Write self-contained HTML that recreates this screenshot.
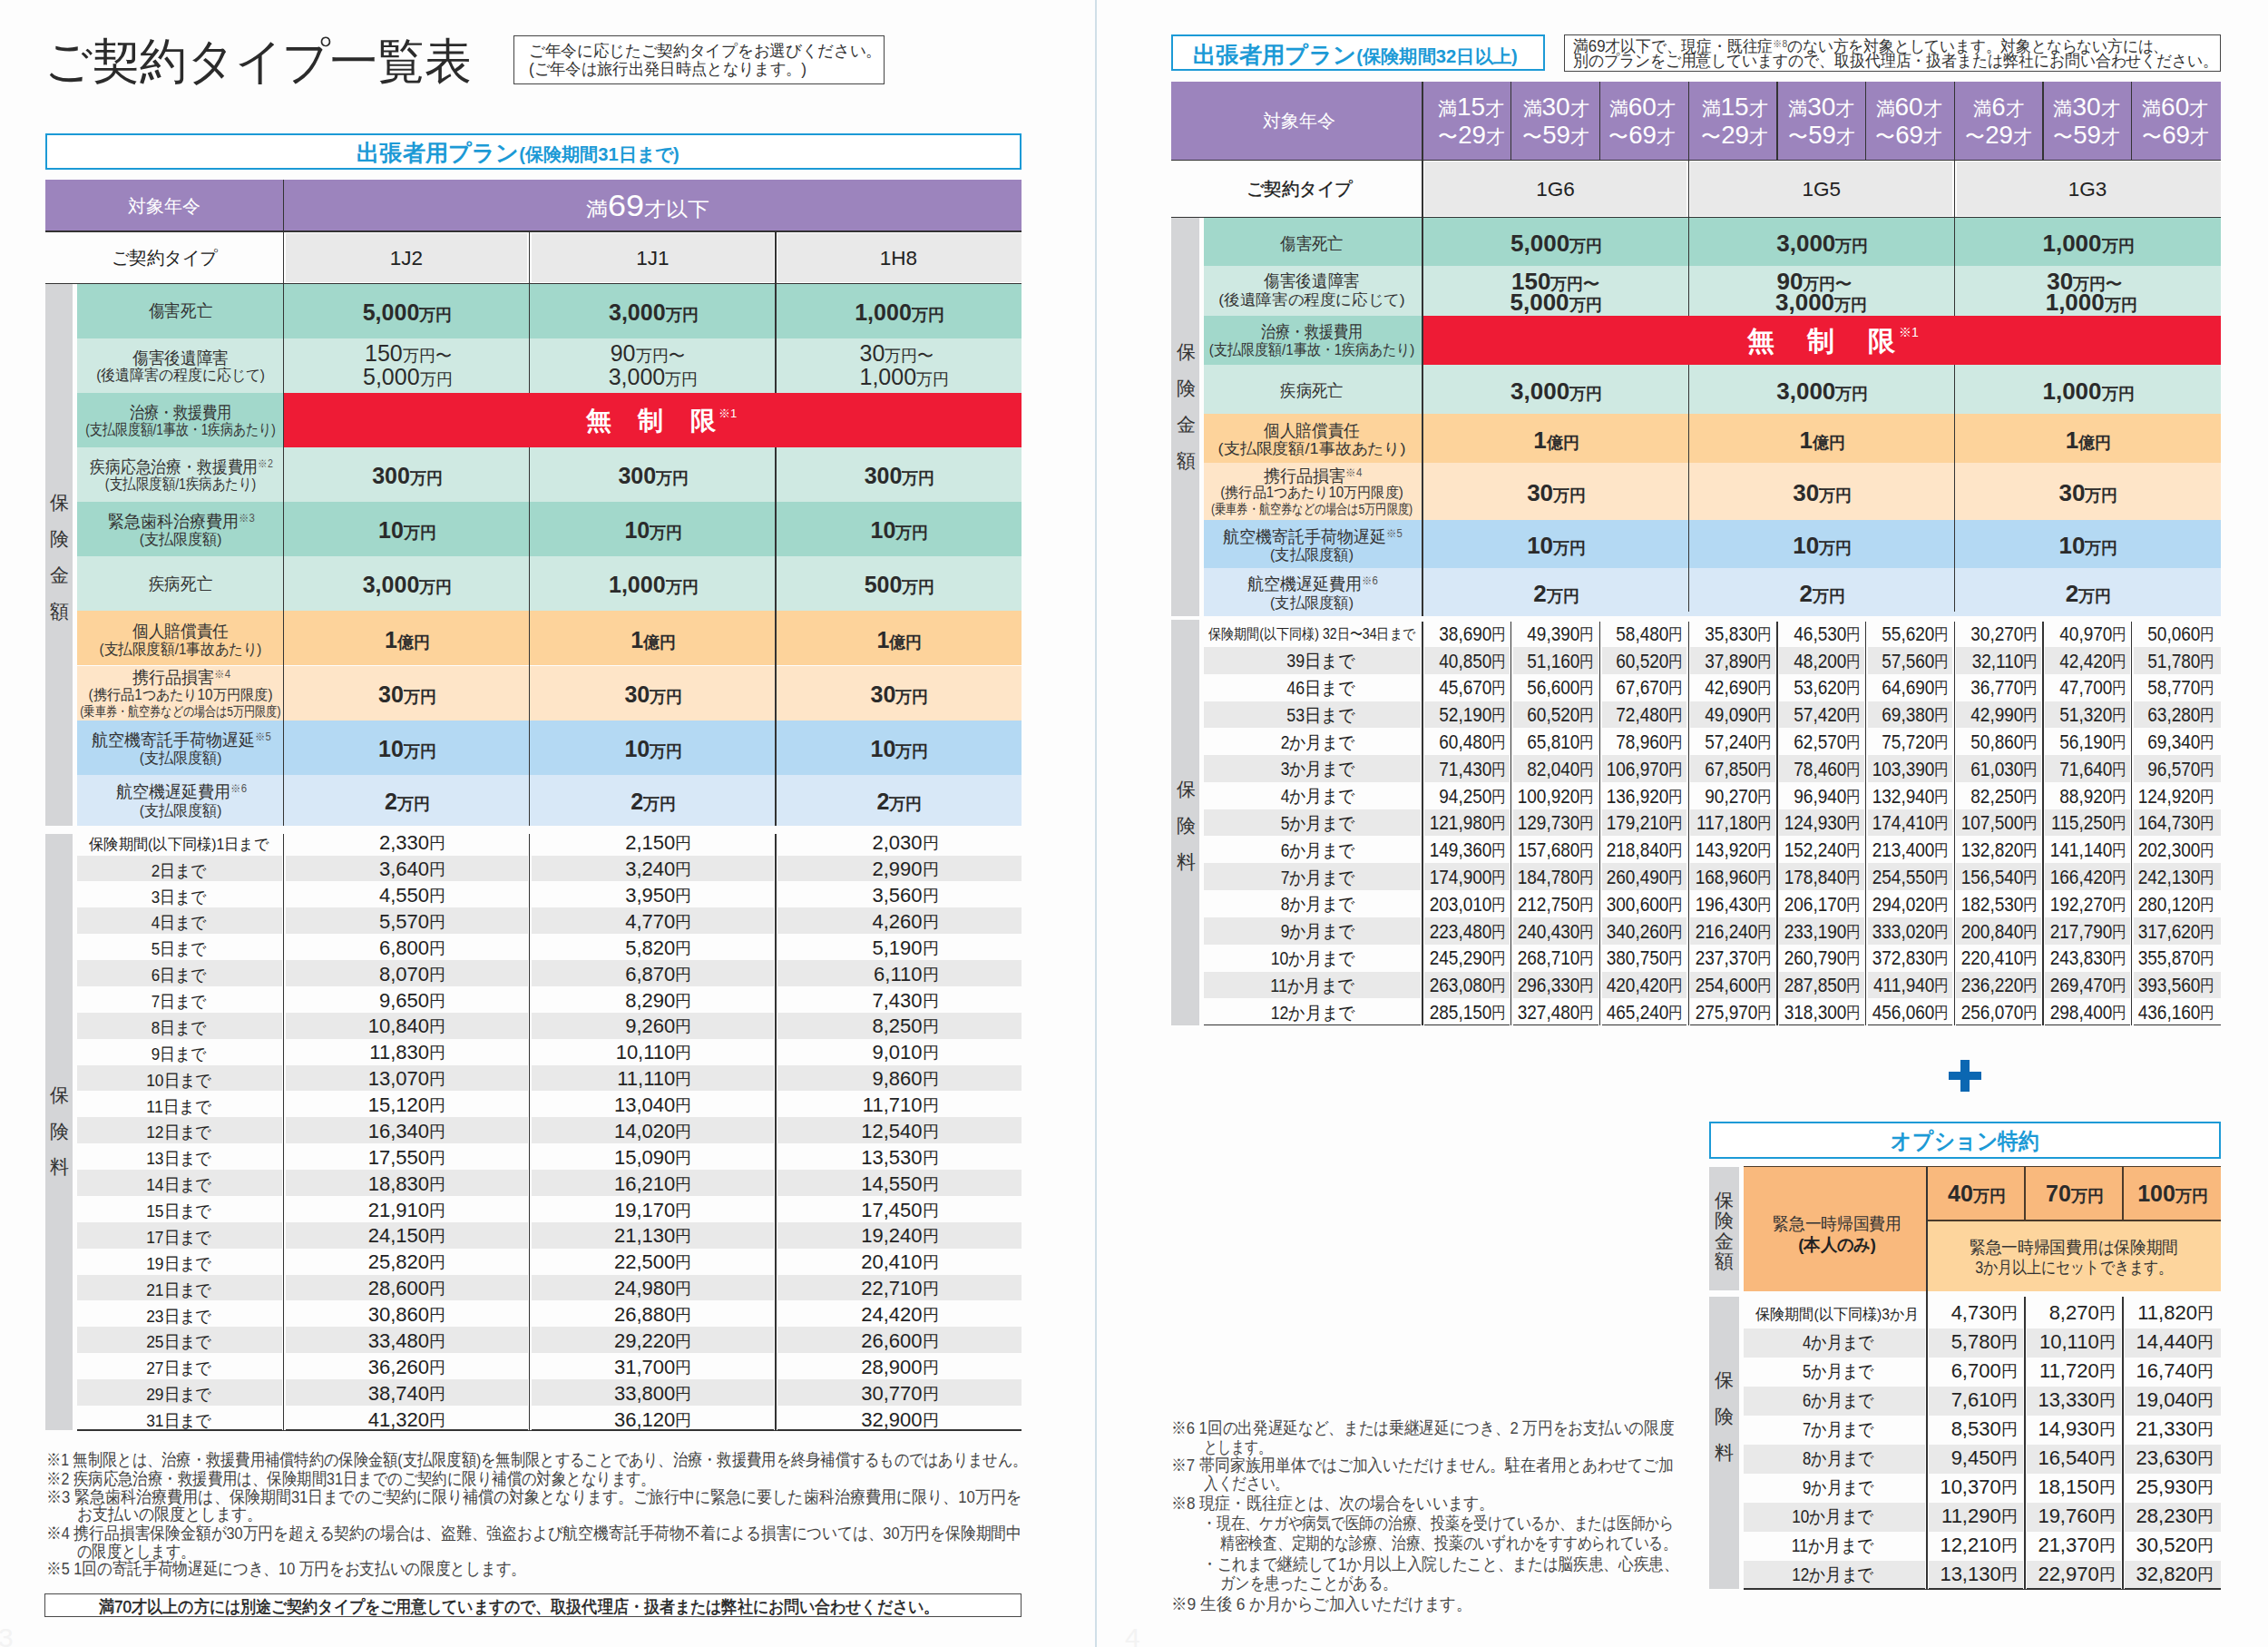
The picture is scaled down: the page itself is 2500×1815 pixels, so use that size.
<!DOCTYPE html>
<html lang="ja"><head><meta charset="utf-8"><title>ご契約タイプ一覧表</title><style>
html,body{margin:0;padding:0}
html{width:2500px;height:1815px;overflow:hidden}
body{width:2500px;height:1815px;background:#fdfdfd;position:relative;overflow:hidden;font-family:"Liberation Sans",sans-serif;}
#page{position:absolute;left:0;top:0;width:2500px;height:1815px;overflow:hidden;contain:paint}
.b{position:absolute}
.t{position:absolute;white-space:nowrap;line-height:1}
.med{-webkit-text-stroke:0.5px #222}
.med2{-webkit-text-stroke:0.35px #1a1a1a}
.sup{position:relative;top:-0.5em;font-weight:400;color:#555}
</style></head><body><div id="page">
<div id="t1" class="t " style="left:49.0px;top:66.5px;font-size:54px;font-weight:300;color:#2b2b2b;transform:translate(0,-50%) scaleX(0.9612);transform-origin:0 50%;">ご契約タイプ一覧表</div>
<div class="b" style="left:566px;top:38.5px;width:409px;height:54px;border:1.3px solid #444;box-sizing:border-box;background:#fff"></div>
<div id="t2" class="t " style="left:582.5px;top:55.7px;font-size:18px;font-weight:400;color:#333;transform:translate(0,-50%) scaleX(0.9823);transform-origin:0 50%;">ご年令に応じたご契約タイプをお選びください。</div>
<div id="t3" class="t " style="left:582.5px;top:75.5px;font-size:18px;font-weight:400;color:#333;transform:translate(0,-50%) scaleX(0.9623);transform-origin:0 50%;">(ご年令は旅行出発日時点となります。)</div>
<div class="b" style="left:50px;top:147px;width:1076px;height:39.5px;border:2.6px solid #1c9ad6;box-sizing:border-box;background:#fff"></div>
<div id="t4" class="t " style="left:571.0px;top:167.5px;font-size:25px;font-weight:700;color:#1c9ad6;transform:translate(-50%,-50%) scaleX(1.0056);transform-origin:50% 50%;"><span style="font-size:25px">出張者用プラン</span><span style="font-size:20px">(保険期間31日まで)</span></div>
<div class="b" style="left:50.0px;top:198.0px;width:1076.0px;height:57.0px;background:#9c84bd;"></div>
<div id="t5" class="t " style="left:181.0px;top:226.5px;font-size:20px;font-weight:400;color:#fff;transform:translate(-50%,-50%) scaleX(1.0000);transform-origin:50% 50%;">対象年令</div>
<div id="t6" class="t " style="left:714.0px;top:226.0px;font-size:22px;font-weight:400;color:#fff;transform:translate(-50%,-50%) scaleX(1.0880);transform-origin:50% 50%;"><span style="font-size:22px">満</span><span style="font-size:33px">69</span><span style="font-size:22px">才以下</span></div>
<div class="b" style="left:312.5px;top:256.8px;width:813.5px;height:54.0px;background:#e9e9e9;"></div>
<div class="b" style="left:310.3px;top:256.0px;width:4.4px;height:55.5px;background:#fdfdfd;"></div>
<div class="b" style="left:581.4px;top:256.0px;width:4.4px;height:55.5px;background:#fdfdfd;"></div>
<div class="b" style="left:852.8px;top:256.0px;width:4.4px;height:55.5px;background:#fdfdfd;"></div>
<div id="t7" class="t " style="left:181.0px;top:284.0px;font-size:20px;font-weight:400;color:#222;transform:translate(-50%,-50%) scaleX(0.9750);transform-origin:50% 50%;">ご契約タイプ</div>
<div id="t8" class="t " style="left:448.0px;top:284.5px;font-size:22.5px;font-weight:400;color:#222;transform:translate(-50%,-50%) scaleX(1.0000);transform-origin:50% 50%;">1J2</div>
<div id="t9" class="t " style="left:719.3px;top:284.5px;font-size:22.5px;font-weight:400;color:#222;transform:translate(-50%,-50%) scaleX(1.0000);transform-origin:50% 50%;">1J1</div>
<div id="t10" class="t " style="left:990.5px;top:284.5px;font-size:22.5px;font-weight:400;color:#222;transform:translate(-50%,-50%) scaleX(1.0000);transform-origin:50% 50%;">1H8</div>
<div class="b" style="left:85.2px;top:312.5px;width:1040.8px;height:60.1px;background:#a2d8cb;"></div>
<div class="b" style="left:85.2px;top:372.6px;width:1040.8px;height:60.2px;background:#cfe9e2;"></div>
<div class="b" style="left:85.2px;top:432.8px;width:1040.8px;height:60.1px;background:#a2d8cb;"></div>
<div class="b" style="left:85.2px;top:492.9px;width:1040.8px;height:60.2px;background:#cfe9e2;"></div>
<div class="b" style="left:85.2px;top:553.1px;width:1040.8px;height:60.1px;background:#a2d8cb;"></div>
<div class="b" style="left:85.2px;top:613.2px;width:1040.8px;height:60.1px;background:#cfe9e2;"></div>
<div class="b" style="left:85.2px;top:673.4px;width:1040.8px;height:60.1px;background:#fdd39b;"></div>
<div class="b" style="left:85.2px;top:733.5px;width:1040.8px;height:60.2px;background:#fee5c8;"></div>
<div class="b" style="left:85.2px;top:793.7px;width:1040.8px;height:60.1px;background:#b4d9f3;"></div>
<div class="b" style="left:85.2px;top:853.9px;width:1040.8px;height:56.1px;background:#d8e8f7;"></div>
<div class="b" style="left:312.5px;top:432.8px;width:813.5px;height:60.1px;background:#ee1b35;"></div>
<div class="b" style="left:50.0px;top:312.5px;width:30.3px;height:597.5px;background:#d4d5d7;"></div>
<div id="t11" class="t " style="left:65.3px;top:552.6px;font-size:21px;font-weight:400;color:#333;transform:translate(-50%,-50%) scaleX(1.0000);transform-origin:50% 50%;">保</div>
<div id="t12" class="t " style="left:65.3px;top:592.8px;font-size:21px;font-weight:400;color:#333;transform:translate(-50%,-50%) scaleX(1.0000);transform-origin:50% 50%;">険</div>
<div id="t13" class="t " style="left:65.3px;top:633.0px;font-size:21px;font-weight:400;color:#333;transform:translate(-50%,-50%) scaleX(1.0000);transform-origin:50% 50%;">金</div>
<div id="t14" class="t " style="left:65.3px;top:673.0px;font-size:21px;font-weight:400;color:#333;transform:translate(-50%,-50%) scaleX(1.0000);transform-origin:50% 50%;">額</div>
<div id="t15" class="t " style="left:198.5px;top:342.1px;font-size:19px;font-weight:400;color:#333;transform:translate(-50%,-50%) scaleX(0.9211);transform-origin:50% 50%;">傷害死亡</div>
<div id="t16" class="t " style="left:198.5px;top:393.8px;font-size:19px;font-weight:400;color:#333;transform:translate(-50%,-50%) scaleX(0.9298);transform-origin:50% 50%;">傷害後遺障害</div>
<div id="t17" class="t " style="left:198.5px;top:412.9px;font-size:16.5px;font-weight:400;color:#333;transform:translate(-50%,-50%) scaleX(0.9374);transform-origin:50% 50%;">(後遺障害の程度に応じて)</div>
<div id="t18" class="t " style="left:198.5px;top:454.2px;font-size:19px;font-weight:400;color:#333;transform:translate(-50%,-50%) scaleX(0.8496);transform-origin:50% 50%;">治療・救援費用</div>
<div id="t19" class="t " style="left:198.5px;top:473.0px;font-size:16.5px;font-weight:400;color:#333;transform:translate(-50%,-50%) scaleX(0.8224);transform-origin:50% 50%;">(支払限度額/1事故・1疾病あたり)</div>
<div id="t20" class="t " style="left:199.5px;top:514.3px;font-size:19px;font-weight:400;color:#333;transform:translate(-50%,-50%) scaleX(0.8860);transform-origin:50% 50%;">疾病応急治療・救援費用<span class="sup" style="font-size:12px">※2</span></div>
<div id="t21" class="t " style="left:198.5px;top:532.7px;font-size:16.5px;font-weight:400;color:#333;transform:translate(-50%,-50%) scaleX(0.8538);transform-origin:50% 50%;">(支払限度額/1疾病あたり)</div>
<div id="t22" class="t " style="left:199.5px;top:573.6px;font-size:19px;font-weight:400;color:#333;transform:translate(-50%,-50%) scaleX(0.9474);transform-origin:50% 50%;">緊急歯科治療費用<span class="sup" style="font-size:12px">※3</span></div>
<div id="t23" class="t " style="left:198.5px;top:593.9px;font-size:16.5px;font-weight:400;color:#333;transform:translate(-50%,-50%) scaleX(0.9448);transform-origin:50% 50%;">(支払限度額)</div>
<div id="t24" class="t " style="left:198.5px;top:643.3px;font-size:19px;font-weight:400;color:#333;transform:translate(-50%,-50%) scaleX(0.9211);transform-origin:50% 50%;">疾病死亡</div>
<div id="t25" class="t " style="left:198.5px;top:695.3px;font-size:19px;font-weight:400;color:#333;transform:translate(-50%,-50%) scaleX(0.9298);transform-origin:50% 50%;">個人賠償責任</div>
<div id="t26" class="t " style="left:198.5px;top:714.5px;font-size:16.5px;font-weight:400;color:#333;transform:translate(-50%,-50%) scaleX(0.9179);transform-origin:50% 50%;">(支払限度額/1事故あたり)</div>
<div id="t27" class="t " style="left:199.5px;top:745.9px;font-size:19px;font-weight:400;color:#333;transform:translate(-50%,-50%) scaleX(0.9500);transform-origin:50% 50%;">携行品損害<span class="sup" style="font-size:12px">※4</span></div>
<div id="t28" class="t " style="left:198.5px;top:765.8px;font-size:16px;font-weight:400;color:#333;transform:translate(-50%,-50%) scaleX(0.9521);transform-origin:50% 50%;">(携行品1つあたり10万円限度)</div>
<div id="t29" class="t " style="left:198.5px;top:783.0px;font-size:15px;font-weight:400;color:#333;transform:translate(-50%,-50%) scaleX(0.8095);transform-origin:50% 50%;">(乗車券・航空券などの場合は5万円限度)</div>
<div id="t30" class="t " style="left:199.5px;top:814.7px;font-size:19px;font-weight:400;color:#333;transform:translate(-50%,-50%) scaleX(0.9464);transform-origin:50% 50%;">航空機寄託手荷物遅延<span class="sup" style="font-size:12px">※5</span></div>
<div id="t31" class="t " style="left:198.5px;top:835.0px;font-size:16.5px;font-weight:400;color:#333;transform:translate(-50%,-50%) scaleX(0.9448);transform-origin:50% 50%;">(支払限度額)</div>
<div id="t32" class="t " style="left:199.5px;top:872.1px;font-size:19px;font-weight:400;color:#333;transform:translate(-50%,-50%) scaleX(0.9493);transform-origin:50% 50%;">航空機遅延費用<span class="sup" style="font-size:12px">※6</span></div>
<div id="t33" class="t " style="left:198.5px;top:893.2px;font-size:16.5px;font-weight:400;color:#333;transform:translate(-50%,-50%) scaleX(0.9448);transform-origin:50% 50%;">(支払限度額)</div>
<div id="t34" class="t " style="left:449.0px;top:343.6px;font-size:25px;font-weight:700;color:#2b2b2b;transform:translate(-50%,-50%) scaleX(1.0000);transform-origin:50% 50%;"><span style="font-size:25px">5,000</span><span style="font-size:18px">万円</span></div>
<div id="t35" class="t " style="left:720.3px;top:343.6px;font-size:25px;font-weight:700;color:#2b2b2b;transform:translate(-50%,-50%) scaleX(1.0000);transform-origin:50% 50%;"><span style="font-size:25px">3,000</span><span style="font-size:18px">万円</span></div>
<div id="t36" class="t " style="left:991.5px;top:343.6px;font-size:25px;font-weight:700;color:#2b2b2b;transform:translate(-50%,-50%) scaleX(1.0000);transform-origin:50% 50%;"><span style="font-size:25px">1,000</span><span style="font-size:18px">万円</span></div>
<div id="t37" class="t " style="left:449.0px;top:524.0px;font-size:25px;font-weight:700;color:#2b2b2b;transform:translate(-50%,-50%) scaleX(1.0000);transform-origin:50% 50%;"><span style="font-size:25px">300</span><span style="font-size:18px">万円</span></div>
<div id="t38" class="t " style="left:720.3px;top:524.0px;font-size:25px;font-weight:700;color:#2b2b2b;transform:translate(-50%,-50%) scaleX(1.0000);transform-origin:50% 50%;"><span style="font-size:25px">300</span><span style="font-size:18px">万円</span></div>
<div id="t39" class="t " style="left:991.5px;top:524.0px;font-size:25px;font-weight:700;color:#2b2b2b;transform:translate(-50%,-50%) scaleX(1.0000);transform-origin:50% 50%;"><span style="font-size:25px">300</span><span style="font-size:18px">万円</span></div>
<div id="t40" class="t " style="left:449.0px;top:584.2px;font-size:25px;font-weight:700;color:#2b2b2b;transform:translate(-50%,-50%) scaleX(1.0000);transform-origin:50% 50%;"><span style="font-size:25px">10</span><span style="font-size:18px">万円</span></div>
<div id="t41" class="t " style="left:720.3px;top:584.2px;font-size:25px;font-weight:700;color:#2b2b2b;transform:translate(-50%,-50%) scaleX(1.0000);transform-origin:50% 50%;"><span style="font-size:25px">10</span><span style="font-size:18px">万円</span></div>
<div id="t42" class="t " style="left:991.5px;top:584.2px;font-size:25px;font-weight:700;color:#2b2b2b;transform:translate(-50%,-50%) scaleX(1.0000);transform-origin:50% 50%;"><span style="font-size:25px">10</span><span style="font-size:18px">万円</span></div>
<div id="t43" class="t " style="left:449.0px;top:644.3px;font-size:25px;font-weight:700;color:#2b2b2b;transform:translate(-50%,-50%) scaleX(1.0000);transform-origin:50% 50%;"><span style="font-size:25px">3,000</span><span style="font-size:18px">万円</span></div>
<div id="t44" class="t " style="left:720.3px;top:644.3px;font-size:25px;font-weight:700;color:#2b2b2b;transform:translate(-50%,-50%) scaleX(1.0000);transform-origin:50% 50%;"><span style="font-size:25px">1,000</span><span style="font-size:18px">万円</span></div>
<div id="t45" class="t " style="left:991.5px;top:644.3px;font-size:25px;font-weight:700;color:#2b2b2b;transform:translate(-50%,-50%) scaleX(1.0000);transform-origin:50% 50%;"><span style="font-size:25px">500</span><span style="font-size:18px">万円</span></div>
<div id="t46" class="t " style="left:449.0px;top:764.6px;font-size:25px;font-weight:700;color:#2b2b2b;transform:translate(-50%,-50%) scaleX(1.0000);transform-origin:50% 50%;"><span style="font-size:25px">30</span><span style="font-size:18px">万円</span></div>
<div id="t47" class="t " style="left:720.3px;top:764.6px;font-size:25px;font-weight:700;color:#2b2b2b;transform:translate(-50%,-50%) scaleX(1.0000);transform-origin:50% 50%;"><span style="font-size:25px">30</span><span style="font-size:18px">万円</span></div>
<div id="t48" class="t " style="left:991.5px;top:764.6px;font-size:25px;font-weight:700;color:#2b2b2b;transform:translate(-50%,-50%) scaleX(1.0000);transform-origin:50% 50%;"><span style="font-size:25px">30</span><span style="font-size:18px">万円</span></div>
<div id="t49" class="t " style="left:449.0px;top:824.8px;font-size:25px;font-weight:700;color:#2b2b2b;transform:translate(-50%,-50%) scaleX(1.0000);transform-origin:50% 50%;"><span style="font-size:25px">10</span><span style="font-size:18px">万円</span></div>
<div id="t50" class="t " style="left:720.3px;top:824.8px;font-size:25px;font-weight:700;color:#2b2b2b;transform:translate(-50%,-50%) scaleX(1.0000);transform-origin:50% 50%;"><span style="font-size:25px">10</span><span style="font-size:18px">万円</span></div>
<div id="t51" class="t " style="left:991.5px;top:824.8px;font-size:25px;font-weight:700;color:#2b2b2b;transform:translate(-50%,-50%) scaleX(1.0000);transform-origin:50% 50%;"><span style="font-size:25px">10</span><span style="font-size:18px">万円</span></div>
<div id="t52" class="t " style="left:449.0px;top:882.9px;font-size:25px;font-weight:700;color:#2b2b2b;transform:translate(-50%,-50%) scaleX(1.0000);transform-origin:50% 50%;"><span style="font-size:25px">2</span><span style="font-size:18px">万円</span></div>
<div id="t53" class="t " style="left:720.3px;top:882.9px;font-size:25px;font-weight:700;color:#2b2b2b;transform:translate(-50%,-50%) scaleX(1.0000);transform-origin:50% 50%;"><span style="font-size:25px">2</span><span style="font-size:18px">万円</span></div>
<div id="t54" class="t " style="left:991.5px;top:882.9px;font-size:25px;font-weight:700;color:#2b2b2b;transform:translate(-50%,-50%) scaleX(1.0000);transform-origin:50% 50%;"><span style="font-size:25px">2</span><span style="font-size:18px">万円</span></div>
<div id="t55" class="t " style="left:449.0px;top:704.5px;font-size:25px;font-weight:700;color:#2b2b2b;transform:translate(-50%,-50%) scaleX(1.0000);transform-origin:50% 50%;"><span style="font-size:25px">1</span><span style="font-size:18px">億円</span></div>
<div id="t56" class="t " style="left:720.3px;top:704.5px;font-size:25px;font-weight:700;color:#2b2b2b;transform:translate(-50%,-50%) scaleX(1.0000);transform-origin:50% 50%;"><span style="font-size:25px">1</span><span style="font-size:18px">億円</span></div>
<div id="t57" class="t " style="left:991.5px;top:704.5px;font-size:25px;font-weight:700;color:#2b2b2b;transform:translate(-50%,-50%) scaleX(1.0000);transform-origin:50% 50%;"><span style="font-size:25px">1</span><span style="font-size:18px">億円</span></div>
<div id="t58" class="t " style="left:402.0px;top:389.0px;font-size:25px;font-weight:400;color:#2b2b2b;transform:translate(0,-50%) scaleX(1.0000);transform-origin:0 50%;"><span style="font-size:25px">150</span><span style="font-size:18px">万円〜</span></div>
<div id="t59" class="t " style="left:400.0px;top:415.0px;font-size:25px;font-weight:400;color:#2b2b2b;transform:translate(0,-50%) scaleX(1.0000);transform-origin:0 50%;"><span style="font-size:25px">5,000</span><span style="font-size:18px">万円</span></div>
<div id="t60" class="t " style="left:672.7px;top:389.0px;font-size:25px;font-weight:400;color:#2b2b2b;transform:translate(0,-50%) scaleX(1.0000);transform-origin:0 50%;"><span style="font-size:25px">90</span><span style="font-size:18px">万円〜</span></div>
<div id="t61" class="t " style="left:670.7px;top:415.0px;font-size:25px;font-weight:400;color:#2b2b2b;transform:translate(0,-50%) scaleX(1.0000);transform-origin:0 50%;"><span style="font-size:25px">3,000</span><span style="font-size:18px">万円</span></div>
<div id="t62" class="t " style="left:947.5px;top:389.0px;font-size:25px;font-weight:400;color:#2b2b2b;transform:translate(0,-50%) scaleX(1.0000);transform-origin:0 50%;"><span style="font-size:25px">30</span><span style="font-size:18px">万円〜</span></div>
<div id="t63" class="t " style="left:947.5px;top:415.0px;font-size:25px;font-weight:400;color:#2b2b2b;transform:translate(0,-50%) scaleX(1.0000);transform-origin:0 50%;"><span style="font-size:25px">1,000</span><span style="font-size:18px">万円</span></div>
<div id="t64" class="t " style="left:659.7px;top:463.7px;font-size:28px;font-weight:700;color:#fff;transform:translate(-50%,-50%) scaleX(1.0000);transform-origin:50% 50%;">無</div>
<div id="t65" class="t " style="left:716.5px;top:463.7px;font-size:28px;font-weight:700;color:#fff;transform:translate(-50%,-50%) scaleX(1.0000);transform-origin:50% 50%;">制</div>
<div id="t66" class="t " style="left:775.0px;top:463.7px;font-size:28px;font-weight:700;color:#fff;transform:translate(-50%,-50%) scaleX(1.0000);transform-origin:50% 50%;">限</div>
<div id="t67" class="t " style="left:792.0px;top:455.0px;font-size:13px;font-weight:400;color:#fff;transform:translate(0,-50%) scaleX(1.0000);transform-origin:0 50%;">※1</div>
<div class="b" style="left:85.2px;top:942.5px;width:1040.8px;height:28.9px;background:#e9e9e9;"></div>
<div class="b" style="left:85.2px;top:1000.2px;width:1040.8px;height:28.9px;background:#e9e9e9;"></div>
<div class="b" style="left:85.2px;top:1058.0px;width:1040.8px;height:28.9px;background:#e9e9e9;"></div>
<div class="b" style="left:85.2px;top:1115.7px;width:1040.8px;height:28.9px;background:#e9e9e9;"></div>
<div class="b" style="left:85.2px;top:1173.5px;width:1040.8px;height:28.9px;background:#e9e9e9;"></div>
<div class="b" style="left:85.2px;top:1231.2px;width:1040.8px;height:28.9px;background:#e9e9e9;"></div>
<div class="b" style="left:85.2px;top:1289.0px;width:1040.8px;height:28.9px;background:#e9e9e9;"></div>
<div class="b" style="left:85.2px;top:1346.7px;width:1040.8px;height:28.9px;background:#e9e9e9;"></div>
<div class="b" style="left:85.2px;top:1404.5px;width:1040.8px;height:28.9px;background:#e9e9e9;"></div>
<div class="b" style="left:85.2px;top:1462.2px;width:1040.8px;height:28.9px;background:#e9e9e9;"></div>
<div class="b" style="left:85.2px;top:1520.0px;width:1040.8px;height:28.9px;background:#e9e9e9;"></div>
<div class="b" style="left:50.0px;top:919.2px;width:30.3px;height:656.8px;background:#d4d5d7;"></div>
<div id="t68" class="t " style="left:65.3px;top:1206.0px;font-size:21px;font-weight:400;color:#333;transform:translate(-50%,-50%) scaleX(1.0000);transform-origin:50% 50%;">保</div>
<div id="t69" class="t " style="left:65.3px;top:1245.5px;font-size:21px;font-weight:400;color:#333;transform:translate(-50%,-50%) scaleX(1.0000);transform-origin:50% 50%;">険</div>
<div id="t70" class="t " style="left:65.3px;top:1284.6px;font-size:21px;font-weight:400;color:#333;transform:translate(-50%,-50%) scaleX(1.0000);transform-origin:50% 50%;">料</div>
<div id="t71" class="t " style="left:197.0px;top:930.2px;font-size:16.5px;font-weight:400;color:#222;transform:translate(-50%,-50%) scaleX(0.9546);transform-origin:50% 50%;">保険期間(以下同様)1日まで</div>
<div id="t72" class="t " style="left:491.0px;top:929.2px;font-size:22px;font-weight:400;color:#222;transform:translate(-100%,-50%) scaleX(1.0000);transform-origin:100% 50%;">2,330<span style="font-size:18px;position:relative;top:-1px">円</span></div>
<div id="t73" class="t " style="left:762.3px;top:929.2px;font-size:22px;font-weight:400;color:#222;transform:translate(-100%,-50%) scaleX(1.0000);transform-origin:100% 50%;">2,150<span style="font-size:18px;position:relative;top:-1px">円</span></div>
<div id="t74" class="t " style="left:1034.5px;top:929.2px;font-size:22px;font-weight:400;color:#222;transform:translate(-100%,-50%) scaleX(1.0000);transform-origin:100% 50%;">2,030<span style="font-size:18px;position:relative;top:-1px">円</span></div>
<div id="t75" class="t " style="left:197.0px;top:958.6px;font-size:19px;font-weight:400;color:#222;transform:translate(-50%,-50%) scaleX(0.8941);transform-origin:50% 50%;">2日まで</div>
<div id="t76" class="t " style="left:491.0px;top:958.1px;font-size:22px;font-weight:400;color:#222;transform:translate(-100%,-50%) scaleX(1.0000);transform-origin:100% 50%;">3,640<span style="font-size:18px;position:relative;top:-1px">円</span></div>
<div id="t77" class="t " style="left:762.3px;top:958.1px;font-size:22px;font-weight:400;color:#222;transform:translate(-100%,-50%) scaleX(1.0000);transform-origin:100% 50%;">3,240<span style="font-size:18px;position:relative;top:-1px">円</span></div>
<div id="t78" class="t " style="left:1034.5px;top:958.1px;font-size:22px;font-weight:400;color:#222;transform:translate(-100%,-50%) scaleX(1.0000);transform-origin:100% 50%;">2,990<span style="font-size:18px;position:relative;top:-1px">円</span></div>
<div id="t79" class="t " style="left:197.0px;top:987.5px;font-size:19px;font-weight:400;color:#222;transform:translate(-50%,-50%) scaleX(0.8941);transform-origin:50% 50%;">3日まで</div>
<div id="t80" class="t " style="left:491.0px;top:987.0px;font-size:22px;font-weight:400;color:#222;transform:translate(-100%,-50%) scaleX(1.0000);transform-origin:100% 50%;">4,550<span style="font-size:18px;position:relative;top:-1px">円</span></div>
<div id="t81" class="t " style="left:762.3px;top:987.0px;font-size:22px;font-weight:400;color:#222;transform:translate(-100%,-50%) scaleX(1.0000);transform-origin:100% 50%;">3,950<span style="font-size:18px;position:relative;top:-1px">円</span></div>
<div id="t82" class="t " style="left:1034.5px;top:987.0px;font-size:22px;font-weight:400;color:#222;transform:translate(-100%,-50%) scaleX(1.0000);transform-origin:100% 50%;">3,560<span style="font-size:18px;position:relative;top:-1px">円</span></div>
<div id="t83" class="t " style="left:197.0px;top:1016.4px;font-size:19px;font-weight:400;color:#222;transform:translate(-50%,-50%) scaleX(0.8941);transform-origin:50% 50%;">4日まで</div>
<div id="t84" class="t " style="left:491.0px;top:1015.9px;font-size:22px;font-weight:400;color:#222;transform:translate(-100%,-50%) scaleX(1.0000);transform-origin:100% 50%;">5,570<span style="font-size:18px;position:relative;top:-1px">円</span></div>
<div id="t85" class="t " style="left:762.3px;top:1015.9px;font-size:22px;font-weight:400;color:#222;transform:translate(-100%,-50%) scaleX(1.0000);transform-origin:100% 50%;">4,770<span style="font-size:18px;position:relative;top:-1px">円</span></div>
<div id="t86" class="t " style="left:1034.5px;top:1015.9px;font-size:22px;font-weight:400;color:#222;transform:translate(-100%,-50%) scaleX(1.0000);transform-origin:100% 50%;">4,260<span style="font-size:18px;position:relative;top:-1px">円</span></div>
<div id="t87" class="t " style="left:197.0px;top:1045.2px;font-size:19px;font-weight:400;color:#222;transform:translate(-50%,-50%) scaleX(0.8941);transform-origin:50% 50%;">5日まで</div>
<div id="t88" class="t " style="left:491.0px;top:1044.7px;font-size:22px;font-weight:400;color:#222;transform:translate(-100%,-50%) scaleX(1.0000);transform-origin:100% 50%;">6,800<span style="font-size:18px;position:relative;top:-1px">円</span></div>
<div id="t89" class="t " style="left:762.3px;top:1044.7px;font-size:22px;font-weight:400;color:#222;transform:translate(-100%,-50%) scaleX(1.0000);transform-origin:100% 50%;">5,820<span style="font-size:18px;position:relative;top:-1px">円</span></div>
<div id="t90" class="t " style="left:1034.5px;top:1044.7px;font-size:22px;font-weight:400;color:#222;transform:translate(-100%,-50%) scaleX(1.0000);transform-origin:100% 50%;">5,190<span style="font-size:18px;position:relative;top:-1px">円</span></div>
<div id="t91" class="t " style="left:197.0px;top:1074.1px;font-size:19px;font-weight:400;color:#222;transform:translate(-50%,-50%) scaleX(0.8941);transform-origin:50% 50%;">6日まで</div>
<div id="t92" class="t " style="left:491.0px;top:1073.6px;font-size:22px;font-weight:400;color:#222;transform:translate(-100%,-50%) scaleX(1.0000);transform-origin:100% 50%;">8,070<span style="font-size:18px;position:relative;top:-1px">円</span></div>
<div id="t93" class="t " style="left:762.3px;top:1073.6px;font-size:22px;font-weight:400;color:#222;transform:translate(-100%,-50%) scaleX(1.0000);transform-origin:100% 50%;">6,870<span style="font-size:18px;position:relative;top:-1px">円</span></div>
<div id="t94" class="t " style="left:1034.5px;top:1073.6px;font-size:22px;font-weight:400;color:#222;transform:translate(-100%,-50%) scaleX(1.0000);transform-origin:100% 50%;">6,110<span style="font-size:18px;position:relative;top:-1px">円</span></div>
<div id="t95" class="t " style="left:197.0px;top:1103.0px;font-size:19px;font-weight:400;color:#222;transform:translate(-50%,-50%) scaleX(0.8941);transform-origin:50% 50%;">7日まで</div>
<div id="t96" class="t " style="left:491.0px;top:1102.5px;font-size:22px;font-weight:400;color:#222;transform:translate(-100%,-50%) scaleX(1.0000);transform-origin:100% 50%;">9,650<span style="font-size:18px;position:relative;top:-1px">円</span></div>
<div id="t97" class="t " style="left:762.3px;top:1102.5px;font-size:22px;font-weight:400;color:#222;transform:translate(-100%,-50%) scaleX(1.0000);transform-origin:100% 50%;">8,290<span style="font-size:18px;position:relative;top:-1px">円</span></div>
<div id="t98" class="t " style="left:1034.5px;top:1102.5px;font-size:22px;font-weight:400;color:#222;transform:translate(-100%,-50%) scaleX(1.0000);transform-origin:100% 50%;">7,430<span style="font-size:18px;position:relative;top:-1px">円</span></div>
<div id="t99" class="t " style="left:197.0px;top:1131.9px;font-size:19px;font-weight:400;color:#222;transform:translate(-50%,-50%) scaleX(0.8941);transform-origin:50% 50%;">8日まで</div>
<div id="t100" class="t " style="left:491.0px;top:1131.4px;font-size:22px;font-weight:400;color:#222;transform:translate(-100%,-50%) scaleX(1.0000);transform-origin:100% 50%;">10,840<span style="font-size:18px;position:relative;top:-1px">円</span></div>
<div id="t101" class="t " style="left:762.3px;top:1131.4px;font-size:22px;font-weight:400;color:#222;transform:translate(-100%,-50%) scaleX(1.0000);transform-origin:100% 50%;">9,260<span style="font-size:18px;position:relative;top:-1px">円</span></div>
<div id="t102" class="t " style="left:1034.5px;top:1131.4px;font-size:22px;font-weight:400;color:#222;transform:translate(-100%,-50%) scaleX(1.0000);transform-origin:100% 50%;">8,250<span style="font-size:18px;position:relative;top:-1px">円</span></div>
<div id="t103" class="t " style="left:197.0px;top:1160.7px;font-size:19px;font-weight:400;color:#222;transform:translate(-50%,-50%) scaleX(0.8941);transform-origin:50% 50%;">9日まで</div>
<div id="t104" class="t " style="left:491.0px;top:1160.2px;font-size:22px;font-weight:400;color:#222;transform:translate(-100%,-50%) scaleX(1.0000);transform-origin:100% 50%;">11,830<span style="font-size:18px;position:relative;top:-1px">円</span></div>
<div id="t105" class="t " style="left:762.3px;top:1160.2px;font-size:22px;font-weight:400;color:#222;transform:translate(-100%,-50%) scaleX(1.0000);transform-origin:100% 50%;">10,110<span style="font-size:18px;position:relative;top:-1px">円</span></div>
<div id="t106" class="t " style="left:1034.5px;top:1160.2px;font-size:22px;font-weight:400;color:#222;transform:translate(-100%,-50%) scaleX(1.0000);transform-origin:100% 50%;">9,010<span style="font-size:18px;position:relative;top:-1px">円</span></div>
<div id="t107" class="t " style="left:197.0px;top:1189.6px;font-size:19px;font-weight:400;color:#222;transform:translate(-50%,-50%) scaleX(0.9167);transform-origin:50% 50%;">10日まで</div>
<div id="t108" class="t " style="left:491.0px;top:1189.1px;font-size:22px;font-weight:400;color:#222;transform:translate(-100%,-50%) scaleX(1.0000);transform-origin:100% 50%;">13,070<span style="font-size:18px;position:relative;top:-1px">円</span></div>
<div id="t109" class="t " style="left:762.3px;top:1189.1px;font-size:22px;font-weight:400;color:#222;transform:translate(-100%,-50%) scaleX(1.0000);transform-origin:100% 50%;">11,110<span style="font-size:18px;position:relative;top:-1px">円</span></div>
<div id="t110" class="t " style="left:1034.5px;top:1189.1px;font-size:22px;font-weight:400;color:#222;transform:translate(-100%,-50%) scaleX(1.0000);transform-origin:100% 50%;">9,860<span style="font-size:18px;position:relative;top:-1px">円</span></div>
<div id="t111" class="t " style="left:197.0px;top:1218.5px;font-size:19px;font-weight:400;color:#222;transform:translate(-50%,-50%) scaleX(0.9286);transform-origin:50% 50%;">11日まで</div>
<div id="t112" class="t " style="left:491.0px;top:1218.0px;font-size:22px;font-weight:400;color:#222;transform:translate(-100%,-50%) scaleX(1.0000);transform-origin:100% 50%;">15,120<span style="font-size:18px;position:relative;top:-1px">円</span></div>
<div id="t113" class="t " style="left:762.3px;top:1218.0px;font-size:22px;font-weight:400;color:#222;transform:translate(-100%,-50%) scaleX(1.0000);transform-origin:100% 50%;">13,040<span style="font-size:18px;position:relative;top:-1px">円</span></div>
<div id="t114" class="t " style="left:1034.5px;top:1218.0px;font-size:22px;font-weight:400;color:#222;transform:translate(-100%,-50%) scaleX(1.0000);transform-origin:100% 50%;">11,710<span style="font-size:18px;position:relative;top:-1px">円</span></div>
<div id="t115" class="t " style="left:197.0px;top:1247.4px;font-size:19px;font-weight:400;color:#222;transform:translate(-50%,-50%) scaleX(0.9167);transform-origin:50% 50%;">12日まで</div>
<div id="t116" class="t " style="left:491.0px;top:1246.9px;font-size:22px;font-weight:400;color:#222;transform:translate(-100%,-50%) scaleX(1.0000);transform-origin:100% 50%;">16,340<span style="font-size:18px;position:relative;top:-1px">円</span></div>
<div id="t117" class="t " style="left:762.3px;top:1246.9px;font-size:22px;font-weight:400;color:#222;transform:translate(-100%,-50%) scaleX(1.0000);transform-origin:100% 50%;">14,020<span style="font-size:18px;position:relative;top:-1px">円</span></div>
<div id="t118" class="t " style="left:1034.5px;top:1246.9px;font-size:22px;font-weight:400;color:#222;transform:translate(-100%,-50%) scaleX(1.0000);transform-origin:100% 50%;">12,540<span style="font-size:18px;position:relative;top:-1px">円</span></div>
<div id="t119" class="t " style="left:197.0px;top:1276.2px;font-size:19px;font-weight:400;color:#222;transform:translate(-50%,-50%) scaleX(0.9167);transform-origin:50% 50%;">13日まで</div>
<div id="t120" class="t " style="left:491.0px;top:1275.7px;font-size:22px;font-weight:400;color:#222;transform:translate(-100%,-50%) scaleX(1.0000);transform-origin:100% 50%;">17,550<span style="font-size:18px;position:relative;top:-1px">円</span></div>
<div id="t121" class="t " style="left:762.3px;top:1275.7px;font-size:22px;font-weight:400;color:#222;transform:translate(-100%,-50%) scaleX(1.0000);transform-origin:100% 50%;">15,090<span style="font-size:18px;position:relative;top:-1px">円</span></div>
<div id="t122" class="t " style="left:1034.5px;top:1275.7px;font-size:22px;font-weight:400;color:#222;transform:translate(-100%,-50%) scaleX(1.0000);transform-origin:100% 50%;">13,530<span style="font-size:18px;position:relative;top:-1px">円</span></div>
<div id="t123" class="t " style="left:197.0px;top:1305.1px;font-size:19px;font-weight:400;color:#222;transform:translate(-50%,-50%) scaleX(0.9167);transform-origin:50% 50%;">14日まで</div>
<div id="t124" class="t " style="left:491.0px;top:1304.6px;font-size:22px;font-weight:400;color:#222;transform:translate(-100%,-50%) scaleX(1.0000);transform-origin:100% 50%;">18,830<span style="font-size:18px;position:relative;top:-1px">円</span></div>
<div id="t125" class="t " style="left:762.3px;top:1304.6px;font-size:22px;font-weight:400;color:#222;transform:translate(-100%,-50%) scaleX(1.0000);transform-origin:100% 50%;">16,210<span style="font-size:18px;position:relative;top:-1px">円</span></div>
<div id="t126" class="t " style="left:1034.5px;top:1304.6px;font-size:22px;font-weight:400;color:#222;transform:translate(-100%,-50%) scaleX(1.0000);transform-origin:100% 50%;">14,550<span style="font-size:18px;position:relative;top:-1px">円</span></div>
<div id="t127" class="t " style="left:197.0px;top:1334.0px;font-size:19px;font-weight:400;color:#222;transform:translate(-50%,-50%) scaleX(0.9167);transform-origin:50% 50%;">15日まで</div>
<div id="t128" class="t " style="left:491.0px;top:1333.5px;font-size:22px;font-weight:400;color:#222;transform:translate(-100%,-50%) scaleX(1.0000);transform-origin:100% 50%;">21,910<span style="font-size:18px;position:relative;top:-1px">円</span></div>
<div id="t129" class="t " style="left:762.3px;top:1333.5px;font-size:22px;font-weight:400;color:#222;transform:translate(-100%,-50%) scaleX(1.0000);transform-origin:100% 50%;">19,170<span style="font-size:18px;position:relative;top:-1px">円</span></div>
<div id="t130" class="t " style="left:1034.5px;top:1333.5px;font-size:22px;font-weight:400;color:#222;transform:translate(-100%,-50%) scaleX(1.0000);transform-origin:100% 50%;">17,450<span style="font-size:18px;position:relative;top:-1px">円</span></div>
<div id="t131" class="t " style="left:197.0px;top:1362.9px;font-size:19px;font-weight:400;color:#222;transform:translate(-50%,-50%) scaleX(0.9167);transform-origin:50% 50%;">17日まで</div>
<div id="t132" class="t " style="left:491.0px;top:1362.4px;font-size:22px;font-weight:400;color:#222;transform:translate(-100%,-50%) scaleX(1.0000);transform-origin:100% 50%;">24,150<span style="font-size:18px;position:relative;top:-1px">円</span></div>
<div id="t133" class="t " style="left:762.3px;top:1362.4px;font-size:22px;font-weight:400;color:#222;transform:translate(-100%,-50%) scaleX(1.0000);transform-origin:100% 50%;">21,130<span style="font-size:18px;position:relative;top:-1px">円</span></div>
<div id="t134" class="t " style="left:1034.5px;top:1362.4px;font-size:22px;font-weight:400;color:#222;transform:translate(-100%,-50%) scaleX(1.0000);transform-origin:100% 50%;">19,240<span style="font-size:18px;position:relative;top:-1px">円</span></div>
<div id="t135" class="t " style="left:197.0px;top:1391.7px;font-size:19px;font-weight:400;color:#222;transform:translate(-50%,-50%) scaleX(0.9167);transform-origin:50% 50%;">19日まで</div>
<div id="t136" class="t " style="left:491.0px;top:1391.2px;font-size:22px;font-weight:400;color:#222;transform:translate(-100%,-50%) scaleX(1.0000);transform-origin:100% 50%;">25,820<span style="font-size:18px;position:relative;top:-1px">円</span></div>
<div id="t137" class="t " style="left:762.3px;top:1391.2px;font-size:22px;font-weight:400;color:#222;transform:translate(-100%,-50%) scaleX(1.0000);transform-origin:100% 50%;">22,500<span style="font-size:18px;position:relative;top:-1px">円</span></div>
<div id="t138" class="t " style="left:1034.5px;top:1391.2px;font-size:22px;font-weight:400;color:#222;transform:translate(-100%,-50%) scaleX(1.0000);transform-origin:100% 50%;">20,410<span style="font-size:18px;position:relative;top:-1px">円</span></div>
<div id="t139" class="t " style="left:197.0px;top:1420.6px;font-size:19px;font-weight:400;color:#222;transform:translate(-50%,-50%) scaleX(0.9167);transform-origin:50% 50%;">21日まで</div>
<div id="t140" class="t " style="left:491.0px;top:1420.1px;font-size:22px;font-weight:400;color:#222;transform:translate(-100%,-50%) scaleX(1.0000);transform-origin:100% 50%;">28,600<span style="font-size:18px;position:relative;top:-1px">円</span></div>
<div id="t141" class="t " style="left:762.3px;top:1420.1px;font-size:22px;font-weight:400;color:#222;transform:translate(-100%,-50%) scaleX(1.0000);transform-origin:100% 50%;">24,980<span style="font-size:18px;position:relative;top:-1px">円</span></div>
<div id="t142" class="t " style="left:1034.5px;top:1420.1px;font-size:22px;font-weight:400;color:#222;transform:translate(-100%,-50%) scaleX(1.0000);transform-origin:100% 50%;">22,710<span style="font-size:18px;position:relative;top:-1px">円</span></div>
<div id="t143" class="t " style="left:197.0px;top:1449.5px;font-size:19px;font-weight:400;color:#222;transform:translate(-50%,-50%) scaleX(0.9167);transform-origin:50% 50%;">23日まで</div>
<div id="t144" class="t " style="left:491.0px;top:1449.0px;font-size:22px;font-weight:400;color:#222;transform:translate(-100%,-50%) scaleX(1.0000);transform-origin:100% 50%;">30,860<span style="font-size:18px;position:relative;top:-1px">円</span></div>
<div id="t145" class="t " style="left:762.3px;top:1449.0px;font-size:22px;font-weight:400;color:#222;transform:translate(-100%,-50%) scaleX(1.0000);transform-origin:100% 50%;">26,880<span style="font-size:18px;position:relative;top:-1px">円</span></div>
<div id="t146" class="t " style="left:1034.5px;top:1449.0px;font-size:22px;font-weight:400;color:#222;transform:translate(-100%,-50%) scaleX(1.0000);transform-origin:100% 50%;">24,420<span style="font-size:18px;position:relative;top:-1px">円</span></div>
<div id="t147" class="t " style="left:197.0px;top:1478.4px;font-size:19px;font-weight:400;color:#222;transform:translate(-50%,-50%) scaleX(0.9167);transform-origin:50% 50%;">25日まで</div>
<div id="t148" class="t " style="left:491.0px;top:1477.9px;font-size:22px;font-weight:400;color:#222;transform:translate(-100%,-50%) scaleX(1.0000);transform-origin:100% 50%;">33,480<span style="font-size:18px;position:relative;top:-1px">円</span></div>
<div id="t149" class="t " style="left:762.3px;top:1477.9px;font-size:22px;font-weight:400;color:#222;transform:translate(-100%,-50%) scaleX(1.0000);transform-origin:100% 50%;">29,220<span style="font-size:18px;position:relative;top:-1px">円</span></div>
<div id="t150" class="t " style="left:1034.5px;top:1477.9px;font-size:22px;font-weight:400;color:#222;transform:translate(-100%,-50%) scaleX(1.0000);transform-origin:100% 50%;">26,600<span style="font-size:18px;position:relative;top:-1px">円</span></div>
<div id="t151" class="t " style="left:197.0px;top:1507.2px;font-size:19px;font-weight:400;color:#222;transform:translate(-50%,-50%) scaleX(0.9167);transform-origin:50% 50%;">27日まで</div>
<div id="t152" class="t " style="left:491.0px;top:1506.7px;font-size:22px;font-weight:400;color:#222;transform:translate(-100%,-50%) scaleX(1.0000);transform-origin:100% 50%;">36,260<span style="font-size:18px;position:relative;top:-1px">円</span></div>
<div id="t153" class="t " style="left:762.3px;top:1506.7px;font-size:22px;font-weight:400;color:#222;transform:translate(-100%,-50%) scaleX(1.0000);transform-origin:100% 50%;">31,700<span style="font-size:18px;position:relative;top:-1px">円</span></div>
<div id="t154" class="t " style="left:1034.5px;top:1506.7px;font-size:22px;font-weight:400;color:#222;transform:translate(-100%,-50%) scaleX(1.0000);transform-origin:100% 50%;">28,900<span style="font-size:18px;position:relative;top:-1px">円</span></div>
<div id="t155" class="t " style="left:197.0px;top:1536.1px;font-size:19px;font-weight:400;color:#222;transform:translate(-50%,-50%) scaleX(0.9167);transform-origin:50% 50%;">29日まで</div>
<div id="t156" class="t " style="left:491.0px;top:1535.6px;font-size:22px;font-weight:400;color:#222;transform:translate(-100%,-50%) scaleX(1.0000);transform-origin:100% 50%;">38,740<span style="font-size:18px;position:relative;top:-1px">円</span></div>
<div id="t157" class="t " style="left:762.3px;top:1535.6px;font-size:22px;font-weight:400;color:#222;transform:translate(-100%,-50%) scaleX(1.0000);transform-origin:100% 50%;">33,800<span style="font-size:18px;position:relative;top:-1px">円</span></div>
<div id="t158" class="t " style="left:1034.5px;top:1535.6px;font-size:22px;font-weight:400;color:#222;transform:translate(-100%,-50%) scaleX(1.0000);transform-origin:100% 50%;">30,770<span style="font-size:18px;position:relative;top:-1px">円</span></div>
<div id="t159" class="t " style="left:197.0px;top:1565.0px;font-size:19px;font-weight:400;color:#222;transform:translate(-50%,-50%) scaleX(0.9167);transform-origin:50% 50%;">31日まで</div>
<div id="t160" class="t " style="left:491.0px;top:1564.5px;font-size:22px;font-weight:400;color:#222;transform:translate(-100%,-50%) scaleX(1.0000);transform-origin:100% 50%;">41,320<span style="font-size:18px;position:relative;top:-1px">円</span></div>
<div id="t161" class="t " style="left:762.3px;top:1564.5px;font-size:22px;font-weight:400;color:#222;transform:translate(-100%,-50%) scaleX(1.0000);transform-origin:100% 50%;">36,120<span style="font-size:18px;position:relative;top:-1px">円</span></div>
<div id="t162" class="t " style="left:1034.5px;top:1564.5px;font-size:22px;font-weight:400;color:#222;transform:translate(-100%,-50%) scaleX(1.0000);transform-origin:100% 50%;">32,900<span style="font-size:18px;position:relative;top:-1px">円</span></div>
<div class="b" style="left:50.0px;top:254.3px;width:1076.0px;height:1.4px;background:#333;"></div>
<div class="b" style="left:50.0px;top:311.8px;width:1076.0px;height:1.4px;background:#333;"></div>
<div class="b" style="left:85.2px;top:1575.3px;width:1040.8px;height:1.4px;background:#333;"></div>
<div class="b" style="left:311.8px;top:198.0px;width:1.4px;height:712.0px;background:#333;"></div>
<div class="b" style="left:311.8px;top:919.4px;width:1.4px;height:656.6px;background:#333;"></div>
<div class="b" style="left:582.9px;top:255.0px;width:1.4px;height:177.8px;background:#333;"></div>
<div class="b" style="left:582.9px;top:492.9px;width:1.4px;height:417.1px;background:#333;"></div>
<div class="b" style="left:581.6px;top:919.4px;width:4.0px;height:656.6px;background:#fdfdfd;"></div>
<div class="b" style="left:582.9px;top:919.4px;width:1.4px;height:656.6px;background:#333;"></div>
<div class="b" style="left:854.3px;top:255.0px;width:1.4px;height:177.8px;background:#333;"></div>
<div class="b" style="left:854.3px;top:492.9px;width:1.4px;height:417.1px;background:#333;"></div>
<div class="b" style="left:853.0px;top:919.4px;width:4.0px;height:656.6px;background:#fdfdfd;"></div>
<div class="b" style="left:854.3px;top:919.4px;width:1.4px;height:656.6px;background:#333;"></div>
<div class="b" style="left:310.5px;top:919.4px;width:4.0px;height:656.6px;background:#fdfdfd;"></div>
<div class="b" style="left:311.8px;top:919.4px;width:1.4px;height:656.6px;background:#333;"></div>
<div id="t163" class="t " style="left:50.7px;top:1608.6px;font-size:18.5px;font-weight:300;color:#444;transform:translate(0,-50%) scaleX(0.8561);transform-origin:0 50%;">※1 無制限とは、治療・救援費用補償特約の保険金額(支払限度額)を無制限とすることであり、治療・救援費用を終身補償するものではありません。</div>
<div id="t164" class="t " style="left:50.7px;top:1629.6px;font-size:18.5px;font-weight:300;color:#444;transform:translate(0,-50%) scaleX(0.8646);transform-origin:0 50%;">※2 疾病応急治療・救援費用は、保険期間31日までのご契約に限り補償の対象となります。</div>
<div id="t165" class="t " style="left:50.7px;top:1650.0px;font-size:18.5px;font-weight:300;color:#444;transform:translate(0,-50%) scaleX(0.8983);transform-origin:0 50%;">※3 緊急歯科治療費用は、保険期間31日までのご契約に限り補償の対象となります。ご旅行中に緊急に要した歯科治療費用に限り、10万円を</div>
<div id="t166" class="t " style="left:85.4px;top:1669.0px;font-size:18.5px;font-weight:300;color:#444;transform:translate(0,-50%) scaleX(0.8965);transform-origin:0 50%;">お支払いの限度とします。</div>
<div id="t167" class="t " style="left:50.7px;top:1690.0px;font-size:18.5px;font-weight:300;color:#444;transform:translate(0,-50%) scaleX(0.8843);transform-origin:0 50%;">※4 携行品損害保険金額が30万円を超える契約の場合は、盗難、強盗および航空機寄託手荷物不着による損害については、30万円を保険期間中</div>
<div id="t168" class="t " style="left:85.4px;top:1709.5px;font-size:18.5px;font-weight:300;color:#444;transform:translate(0,-50%) scaleX(0.8553);transform-origin:0 50%;">の限度とします。</div>
<div id="t169" class="t " style="left:50.7px;top:1729.0px;font-size:18.5px;font-weight:300;color:#444;transform:translate(0,-50%) scaleX(0.8779);transform-origin:0 50%;">※5 1回の寄託手荷物遅延につき、10 万円をお支払いの限度とします。</div>
<div class="b" style="left:49.4px;top:1756.4px;width:1077px;height:26px;border:1.5px solid #4a4a4a;box-sizing:border-box;background:#fff"></div>
<div id="t170" class="t med" style="left:572.3px;top:1769.9px;font-size:19px;font-weight:400;color:#222;transform:translate(-50%,-50%) scaleX(0.9008);transform-origin:50% 50%;">満70才以上の方には別途ご契約タイプをご用意していますので、取扱代理店・扱者または弊社にお問い合わせください。</div>
<div id="t171" class="t " style="left:-2.0px;top:1805.0px;font-size:30px;font-weight:400;color:#f3f3f3;transform:translate(0,-50%) scaleX(1.0000);transform-origin:0 50%;">3</div>
<div id="t172" class="t " style="left:1240.0px;top:1805.0px;font-size:30px;font-weight:400;color:#f3f3f3;transform:translate(0,-50%) scaleX(1.0000);transform-origin:0 50%;">4</div>
<div class="b" style="left:1207.3px;top:0.0px;width:1.5px;height:1815.0px;background:#d0dfe8;"></div>
<div class="b" style="left:1291.2px;top:38.3px;width:411.4px;height:40.2px;border:2.6px solid #1c9ad6;box-sizing:border-box;background:#fff"></div>
<div id="t173" class="t " style="left:1494.0px;top:59.5px;font-size:25px;font-weight:700;color:#1c9ad6;transform:translate(-50%,-50%) scaleX(1.0113);transform-origin:50% 50%;"><span style="font-size:25px">出張者用プラン</span><span style="font-size:20px">(保険期間32日以上)</span></div>
<div class="b" style="left:1723.7px;top:38px;width:724px;height:40.6px;border:1.3px solid #444;box-sizing:border-box;background:#fff"></div>
<div id="t174" class="t " style="left:1734.0px;top:50.9px;font-size:18px;font-weight:400;color:#333;transform:translate(0,-50%) scaleX(0.9331);transform-origin:0 50%;">満69才以下で、現症・既往症<span class="sup" style="font-size:11px;top:-0.45em">※8</span>のない方を対象としています。対象とならない方には、</div>
<div id="t175" class="t " style="left:1734.0px;top:67.4px;font-size:18px;font-weight:400;color:#333;transform:translate(0,-50%) scaleX(0.9405);transform-origin:0 50%;">別のプランをご用意していますので、取扱代理店・扱者または弊社にお問い合わせください。</div>
<div class="b" style="left:1291.3px;top:89.7px;width:1156.3px;height:86.9px;background:#9c84bd;"></div>
<div id="t176" class="t " style="left:1432.0px;top:132.8px;font-size:20px;font-weight:400;color:#fff;transform:translate(-50%,-50%) scaleX(1.0000);transform-origin:50% 50%;">対象年令</div>
<div id="t177" class="t " style="left:1621.6px;top:117.6px;font-size:28px;font-weight:400;color:#fff;transform:translate(-50%,-50%) scaleX(1.0000);transform-origin:50% 50%;"><span style="font-size:21px">満</span>15<span style="font-size:21px">才</span></div>
<div id="t178" class="t " style="left:1621.6px;top:149.0px;font-size:28px;font-weight:400;color:#fff;transform:translate(-50%,-50%) scaleX(0.9865);transform-origin:50% 50%;"><span style="font-size:22px;font-weight:400">〜</span>29<span style="font-size:21px">才</span></div>
<div id="t179" class="t " style="left:1715.1px;top:117.6px;font-size:28px;font-weight:400;color:#fff;transform:translate(-50%,-50%) scaleX(1.0000);transform-origin:50% 50%;"><span style="font-size:21px">満</span>30<span style="font-size:21px">才</span></div>
<div id="t180" class="t " style="left:1715.1px;top:149.0px;font-size:28px;font-weight:400;color:#fff;transform:translate(-50%,-50%) scaleX(0.9865);transform-origin:50% 50%;"><span style="font-size:22px;font-weight:400">〜</span>59<span style="font-size:21px">才</span></div>
<div id="t181" class="t " style="left:1810.3px;top:117.6px;font-size:28px;font-weight:400;color:#fff;transform:translate(-50%,-50%) scaleX(1.0000);transform-origin:50% 50%;"><span style="font-size:21px">満</span>60<span style="font-size:21px">才</span></div>
<div id="t182" class="t " style="left:1810.3px;top:149.0px;font-size:28px;font-weight:400;color:#fff;transform:translate(-50%,-50%) scaleX(0.9865);transform-origin:50% 50%;"><span style="font-size:22px;font-weight:400">〜</span>69<span style="font-size:21px">才</span></div>
<div id="t183" class="t " style="left:1912.1px;top:117.6px;font-size:28px;font-weight:400;color:#fff;transform:translate(-50%,-50%) scaleX(1.0000);transform-origin:50% 50%;"><span style="font-size:21px">満</span>15<span style="font-size:21px">才</span></div>
<div id="t184" class="t " style="left:1912.1px;top:149.0px;font-size:28px;font-weight:400;color:#fff;transform:translate(-50%,-50%) scaleX(0.9865);transform-origin:50% 50%;"><span style="font-size:22px;font-weight:400">〜</span>29<span style="font-size:21px">才</span></div>
<div id="t185" class="t " style="left:2007.8px;top:117.6px;font-size:28px;font-weight:400;color:#fff;transform:translate(-50%,-50%) scaleX(1.0000);transform-origin:50% 50%;"><span style="font-size:21px">満</span>30<span style="font-size:21px">才</span></div>
<div id="t186" class="t " style="left:2007.8px;top:149.0px;font-size:28px;font-weight:400;color:#fff;transform:translate(-50%,-50%) scaleX(0.9865);transform-origin:50% 50%;"><span style="font-size:22px;font-weight:400">〜</span>59<span style="font-size:21px">才</span></div>
<div id="t187" class="t " style="left:2104.1px;top:117.6px;font-size:28px;font-weight:400;color:#fff;transform:translate(-50%,-50%) scaleX(1.0000);transform-origin:50% 50%;"><span style="font-size:21px">満</span>60<span style="font-size:21px">才</span></div>
<div id="t188" class="t " style="left:2104.1px;top:149.0px;font-size:28px;font-weight:400;color:#fff;transform:translate(-50%,-50%) scaleX(0.9865);transform-origin:50% 50%;"><span style="font-size:22px;font-weight:400">〜</span>69<span style="font-size:21px">才</span></div>
<div id="t189" class="t " style="left:2203.2px;top:117.6px;font-size:28px;font-weight:400;color:#fff;transform:translate(-50%,-50%) scaleX(0.9655);transform-origin:50% 50%;"><span style="font-size:21px">満</span>6<span style="font-size:21px">才</span></div>
<div id="t190" class="t " style="left:2203.2px;top:149.0px;font-size:28px;font-weight:400;color:#fff;transform:translate(-50%,-50%) scaleX(0.9865);transform-origin:50% 50%;"><span style="font-size:22px;font-weight:400">〜</span>29<span style="font-size:21px">才</span></div>
<div id="t191" class="t " style="left:2300.0px;top:117.6px;font-size:28px;font-weight:400;color:#fff;transform:translate(-50%,-50%) scaleX(1.0000);transform-origin:50% 50%;"><span style="font-size:21px">満</span>30<span style="font-size:21px">才</span></div>
<div id="t192" class="t " style="left:2300.0px;top:149.0px;font-size:28px;font-weight:400;color:#fff;transform:translate(-50%,-50%) scaleX(0.9865);transform-origin:50% 50%;"><span style="font-size:22px;font-weight:400">〜</span>59<span style="font-size:21px">才</span></div>
<div id="t193" class="t " style="left:2397.7px;top:117.6px;font-size:28px;font-weight:400;color:#fff;transform:translate(-50%,-50%) scaleX(1.0000);transform-origin:50% 50%;"><span style="font-size:21px">満</span>60<span style="font-size:21px">才</span></div>
<div id="t194" class="t " style="left:2397.7px;top:149.0px;font-size:28px;font-weight:400;color:#fff;transform:translate(-50%,-50%) scaleX(0.9865);transform-origin:50% 50%;"><span style="font-size:22px;font-weight:400">〜</span>69<span style="font-size:21px">才</span></div>
<div class="b" style="left:1568.0px;top:178.4px;width:879.6px;height:59.4px;background:#e9e9e9;"></div>
<div class="b" style="left:1565.8px;top:177.5px;width:4.4px;height:61.1px;background:#fdfdfd;"></div>
<div class="b" style="left:1859.0px;top:177.5px;width:4.4px;height:61.1px;background:#fdfdfd;"></div>
<div class="b" style="left:2152.2px;top:177.5px;width:4.4px;height:61.1px;background:#fdfdfd;"></div>
<div id="t195" class="t med2" style="left:1432.0px;top:207.5px;font-size:20px;font-weight:400;color:#1a1a1a;transform:translate(-50%,-50%) scaleX(0.9750);transform-origin:50% 50%;">ご契約タイプ</div>
<div id="t196" class="t " style="left:1714.6px;top:208.5px;font-size:22.5px;font-weight:400;color:#222;transform:translate(-50%,-50%) scaleX(1.0000);transform-origin:50% 50%;">1G6</div>
<div id="t197" class="t " style="left:2007.8px;top:208.5px;font-size:22.5px;font-weight:400;color:#222;transform:translate(-50%,-50%) scaleX(1.0000);transform-origin:50% 50%;">1G5</div>
<div id="t198" class="t " style="left:2301.0px;top:208.5px;font-size:22.5px;font-weight:400;color:#222;transform:translate(-50%,-50%) scaleX(1.0000);transform-origin:50% 50%;">1G3</div>
<div class="b" style="left:1327.0px;top:239.5px;width:1120.6px;height:53.9px;background:#a2d8cb;"></div>
<div class="b" style="left:1327.0px;top:293.4px;width:1120.6px;height:54.2px;background:#cfe9e2;"></div>
<div class="b" style="left:1327.0px;top:347.6px;width:1120.6px;height:54.5px;background:#a2d8cb;"></div>
<div class="b" style="left:1327.0px;top:402.1px;width:1120.6px;height:54.3px;background:#cfe9e2;"></div>
<div class="b" style="left:1327.0px;top:456.4px;width:1120.6px;height:53.9px;background:#fdd39b;"></div>
<div class="b" style="left:1327.0px;top:510.3px;width:1120.6px;height:62.3px;background:#fee5c8;"></div>
<div class="b" style="left:1327.0px;top:572.6px;width:1120.6px;height:53.6px;background:#b4d9f3;"></div>
<div class="b" style="left:1327.0px;top:626.2px;width:1120.6px;height:52.6px;background:#d8e8f7;"></div>
<div class="b" style="left:1568.0px;top:347.6px;width:879.6px;height:54.5px;background:#ee1b35;"></div>
<div class="b" style="left:1291.3px;top:239.5px;width:30.7px;height:439.3px;background:#d4d5d7;"></div>
<div id="t199" class="t " style="left:1307.6px;top:387.0px;font-size:21px;font-weight:400;color:#333;transform:translate(-50%,-50%) scaleX(1.0000);transform-origin:50% 50%;">保</div>
<div id="t200" class="t " style="left:1307.6px;top:427.0px;font-size:21px;font-weight:400;color:#333;transform:translate(-50%,-50%) scaleX(1.0000);transform-origin:50% 50%;">険</div>
<div id="t201" class="t " style="left:1307.6px;top:467.0px;font-size:21px;font-weight:400;color:#333;transform:translate(-50%,-50%) scaleX(1.0000);transform-origin:50% 50%;">金</div>
<div id="t202" class="t " style="left:1307.6px;top:507.0px;font-size:21px;font-weight:400;color:#333;transform:translate(-50%,-50%) scaleX(1.0000);transform-origin:50% 50%;">額</div>
<div id="t203" class="t " style="left:1446.0px;top:268.0px;font-size:19px;font-weight:400;color:#333;transform:translate(-50%,-50%) scaleX(0.9132);transform-origin:50% 50%;">傷害死亡</div>
<div id="t204" class="t " style="left:1446.0px;top:310.4px;font-size:18.5px;font-weight:400;color:#333;transform:translate(-50%,-50%) scaleX(0.9211);transform-origin:50% 50%;">傷害後遺障害</div>
<div id="t205" class="t " style="left:1446.0px;top:330.2px;font-size:17px;font-weight:400;color:#333;transform:translate(-50%,-50%) scaleX(1.0354);transform-origin:50% 50%;">(後遺障害の程度に応じて)</div>
<div id="t206" class="t " style="left:1446.0px;top:365.5px;font-size:18.5px;font-weight:400;color:#333;transform:translate(-50%,-50%) scaleX(0.8421);transform-origin:50% 50%;">治療・救援費用</div>
<div id="t207" class="t " style="left:1446.0px;top:385.0px;font-size:17px;font-weight:400;color:#333;transform:translate(-50%,-50%) scaleX(0.8844);transform-origin:50% 50%;">(支払限度額/1事故・1疾病あたり)</div>
<div id="t208" class="t " style="left:1446.0px;top:429.8px;font-size:19px;font-weight:400;color:#333;transform:translate(-50%,-50%) scaleX(0.9132);transform-origin:50% 50%;">疾病死亡</div>
<div id="t209" class="t " style="left:1446.0px;top:474.5px;font-size:18.5px;font-weight:400;color:#333;transform:translate(-50%,-50%) scaleX(0.9211);transform-origin:50% 50%;">個人賠償責任</div>
<div id="t210" class="t " style="left:1446.0px;top:493.6px;font-size:17px;font-weight:400;color:#333;transform:translate(-50%,-50%) scaleX(1.0587);transform-origin:50% 50%;">(支払限度額/1事故あたり)</div>
<div id="t211" class="t " style="left:1447.0px;top:524.0px;font-size:19px;font-weight:400;color:#333;transform:translate(-50%,-50%) scaleX(0.9561);transform-origin:50% 50%;">携行品損害<span class="sup" style="font-size:12px">※4</span></div>
<div id="t212" class="t " style="left:1446.0px;top:543.4px;font-size:16px;font-weight:400;color:#333;transform:translate(-50%,-50%) scaleX(0.9437);transform-origin:50% 50%;">(携行品1つあたり10万円限度)</div>
<div id="t213" class="t " style="left:1446.0px;top:559.7px;font-size:15px;font-weight:400;color:#333;transform:translate(-50%,-50%) scaleX(0.8125);transform-origin:50% 50%;">(乗車券・航空券などの場合は5万円限度)</div>
<div id="t214" class="t " style="left:1447.0px;top:591.0px;font-size:19px;font-weight:400;color:#333;transform:translate(-50%,-50%) scaleX(0.9464);transform-origin:50% 50%;">航空機寄託手荷物遅延<span class="sup" style="font-size:12px">※5</span></div>
<div id="t215" class="t " style="left:1446.0px;top:611.0px;font-size:16.5px;font-weight:400;color:#333;transform:translate(-50%,-50%) scaleX(0.9583);transform-origin:50% 50%;">(支払限度額)</div>
<div id="t216" class="t " style="left:1447.0px;top:642.5px;font-size:19px;font-weight:400;color:#333;transform:translate(-50%,-50%) scaleX(0.9487);transform-origin:50% 50%;">航空機遅延費用<span class="sup" style="font-size:12px">※6</span></div>
<div id="t217" class="t " style="left:1446.0px;top:663.9px;font-size:16.5px;font-weight:400;color:#333;transform:translate(-50%,-50%) scaleX(0.9583);transform-origin:50% 50%;">(支払限度額)</div>
<div id="t218" class="t " style="left:1715.6px;top:267.9px;font-size:26px;font-weight:700;color:#2b2b2b;transform:translate(-50%,-50%) scaleX(1.0000);transform-origin:50% 50%;"><span style="font-size:26px">5,000</span><span style="font-size:18px">万円</span></div>
<div id="t219" class="t " style="left:2008.8px;top:267.9px;font-size:26px;font-weight:700;color:#2b2b2b;transform:translate(-50%,-50%) scaleX(1.0000);transform-origin:50% 50%;"><span style="font-size:26px">3,000</span><span style="font-size:18px">万円</span></div>
<div id="t220" class="t " style="left:2302.0px;top:267.9px;font-size:26px;font-weight:700;color:#2b2b2b;transform:translate(-50%,-50%) scaleX(1.0000);transform-origin:50% 50%;"><span style="font-size:26px">1,000</span><span style="font-size:18px">万円</span></div>
<div id="t221" class="t " style="left:1715.6px;top:430.8px;font-size:26px;font-weight:700;color:#2b2b2b;transform:translate(-50%,-50%) scaleX(1.0000);transform-origin:50% 50%;"><span style="font-size:26px">3,000</span><span style="font-size:18px">万円</span></div>
<div id="t222" class="t " style="left:2008.8px;top:430.8px;font-size:26px;font-weight:700;color:#2b2b2b;transform:translate(-50%,-50%) scaleX(1.0000);transform-origin:50% 50%;"><span style="font-size:26px">3,000</span><span style="font-size:18px">万円</span></div>
<div id="t223" class="t " style="left:2302.0px;top:430.8px;font-size:26px;font-weight:700;color:#2b2b2b;transform:translate(-50%,-50%) scaleX(1.0000);transform-origin:50% 50%;"><span style="font-size:26px">1,000</span><span style="font-size:18px">万円</span></div>
<div id="t224" class="t " style="left:1715.6px;top:543.0px;font-size:26px;font-weight:700;color:#2b2b2b;transform:translate(-50%,-50%) scaleX(1.0000);transform-origin:50% 50%;"><span style="font-size:26px">30</span><span style="font-size:18px">万円</span></div>
<div id="t225" class="t " style="left:2008.8px;top:543.0px;font-size:26px;font-weight:700;color:#2b2b2b;transform:translate(-50%,-50%) scaleX(1.0000);transform-origin:50% 50%;"><span style="font-size:26px">30</span><span style="font-size:18px">万円</span></div>
<div id="t226" class="t " style="left:2302.0px;top:543.0px;font-size:26px;font-weight:700;color:#2b2b2b;transform:translate(-50%,-50%) scaleX(1.0000);transform-origin:50% 50%;"><span style="font-size:26px">30</span><span style="font-size:18px">万円</span></div>
<div id="t227" class="t " style="left:1715.6px;top:600.9px;font-size:26px;font-weight:700;color:#2b2b2b;transform:translate(-50%,-50%) scaleX(1.0000);transform-origin:50% 50%;"><span style="font-size:26px">10</span><span style="font-size:18px">万円</span></div>
<div id="t228" class="t " style="left:2008.8px;top:600.9px;font-size:26px;font-weight:700;color:#2b2b2b;transform:translate(-50%,-50%) scaleX(1.0000);transform-origin:50% 50%;"><span style="font-size:26px">10</span><span style="font-size:18px">万円</span></div>
<div id="t229" class="t " style="left:2302.0px;top:600.9px;font-size:26px;font-weight:700;color:#2b2b2b;transform:translate(-50%,-50%) scaleX(1.0000);transform-origin:50% 50%;"><span style="font-size:26px">10</span><span style="font-size:18px">万円</span></div>
<div id="t230" class="t " style="left:1715.6px;top:654.0px;font-size:26px;font-weight:700;color:#2b2b2b;transform:translate(-50%,-50%) scaleX(1.0000);transform-origin:50% 50%;"><span style="font-size:26px">2</span><span style="font-size:18px">万円</span></div>
<div id="t231" class="t " style="left:2008.8px;top:654.0px;font-size:26px;font-weight:700;color:#2b2b2b;transform:translate(-50%,-50%) scaleX(1.0000);transform-origin:50% 50%;"><span style="font-size:26px">2</span><span style="font-size:18px">万円</span></div>
<div id="t232" class="t " style="left:2302.0px;top:654.0px;font-size:26px;font-weight:700;color:#2b2b2b;transform:translate(-50%,-50%) scaleX(1.0000);transform-origin:50% 50%;"><span style="font-size:26px">2</span><span style="font-size:18px">万円</span></div>
<div id="t233" class="t " style="left:1715.6px;top:484.9px;font-size:26px;font-weight:700;color:#2b2b2b;transform:translate(-50%,-50%) scaleX(1.0000);transform-origin:50% 50%;"><span style="font-size:26px">1</span><span style="font-size:18px">億円</span></div>
<div id="t234" class="t " style="left:2008.8px;top:484.9px;font-size:26px;font-weight:700;color:#2b2b2b;transform:translate(-50%,-50%) scaleX(1.0000);transform-origin:50% 50%;"><span style="font-size:26px">1</span><span style="font-size:18px">億円</span></div>
<div id="t235" class="t " style="left:2302.0px;top:484.9px;font-size:26px;font-weight:700;color:#2b2b2b;transform:translate(-50%,-50%) scaleX(1.0000);transform-origin:50% 50%;"><span style="font-size:26px">1</span><span style="font-size:18px">億円</span></div>
<div id="t236" class="t " style="left:1666.0px;top:309.7px;font-size:26px;font-weight:700;color:#2b2b2b;transform:translate(0,-50%) scaleX(1.0000);transform-origin:0 50%;"><span style="font-size:26px">150</span><span style="font-size:18px">万円〜</span></div>
<div id="t237" class="t " style="left:1664.5px;top:332.5px;font-size:26px;font-weight:700;color:#2b2b2b;transform:translate(0,-50%) scaleX(1.0000);transform-origin:0 50%;"><span style="font-size:26px">5,000</span><span style="font-size:18px">万円</span></div>
<div id="t238" class="t " style="left:1958.5px;top:309.7px;font-size:26px;font-weight:700;color:#2b2b2b;transform:translate(0,-50%) scaleX(1.0000);transform-origin:0 50%;"><span style="font-size:26px">90</span><span style="font-size:18px">万円〜</span></div>
<div id="t239" class="t " style="left:1957.0px;top:332.5px;font-size:26px;font-weight:700;color:#2b2b2b;transform:translate(0,-50%) scaleX(1.0000);transform-origin:0 50%;"><span style="font-size:26px">3,000</span><span style="font-size:18px">万円</span></div>
<div id="t240" class="t " style="left:2256.2px;top:309.7px;font-size:26px;font-weight:700;color:#2b2b2b;transform:translate(0,-50%) scaleX(1.0000);transform-origin:0 50%;"><span style="font-size:26px">30</span><span style="font-size:18px">万円〜</span></div>
<div id="t241" class="t " style="left:2254.7px;top:332.5px;font-size:26px;font-weight:700;color:#2b2b2b;transform:translate(0,-50%) scaleX(1.0000);transform-origin:0 50%;"><span style="font-size:26px">1,000</span><span style="font-size:18px">万円</span></div>
<div id="t242" class="t " style="left:1940.6px;top:376.4px;font-size:30px;font-weight:700;color:#fff;transform:translate(-50%,-50%) scaleX(1.0000);transform-origin:50% 50%;">無</div>
<div id="t243" class="t " style="left:2007.3px;top:376.4px;font-size:30px;font-weight:700;color:#fff;transform:translate(-50%,-50%) scaleX(1.0000);transform-origin:50% 50%;">制</div>
<div id="t244" class="t " style="left:2074.0px;top:376.4px;font-size:30px;font-weight:700;color:#fff;transform:translate(-50%,-50%) scaleX(1.0000);transform-origin:50% 50%;">限</div>
<div id="t245" class="t " style="left:2093.0px;top:366.0px;font-size:14px;font-weight:400;color:#fff;transform:translate(0,-50%) scaleX(1.0000);transform-origin:0 50%;">※1</div>
<div class="b" style="left:1327.0px;top:712.9px;width:1120.6px;height:29.8px;background:#e9e9e9;"></div>
<div class="b" style="left:1327.0px;top:772.5px;width:1120.6px;height:29.8px;background:#e9e9e9;"></div>
<div class="b" style="left:1327.0px;top:832.1px;width:1120.6px;height:29.8px;background:#e9e9e9;"></div>
<div class="b" style="left:1327.0px;top:891.7px;width:1120.6px;height:29.8px;background:#e9e9e9;"></div>
<div class="b" style="left:1327.0px;top:951.3px;width:1120.6px;height:29.8px;background:#e9e9e9;"></div>
<div class="b" style="left:1327.0px;top:1010.9px;width:1120.6px;height:29.8px;background:#e9e9e9;"></div>
<div class="b" style="left:1327.0px;top:1070.5px;width:1120.6px;height:29.8px;background:#e9e9e9;"></div>
<div class="b" style="left:1291.3px;top:683.3px;width:30.7px;height:446.3px;background:#d4d5d7;"></div>
<div id="t246" class="t " style="left:1307.5px;top:869.4px;font-size:21px;font-weight:400;color:#333;transform:translate(-50%,-50%) scaleX(1.0000);transform-origin:50% 50%;">保</div>
<div id="t247" class="t " style="left:1307.5px;top:909.0px;font-size:21px;font-weight:400;color:#333;transform:translate(-50%,-50%) scaleX(1.0000);transform-origin:50% 50%;">険</div>
<div id="t248" class="t " style="left:1307.5px;top:948.8px;font-size:21px;font-weight:400;color:#333;transform:translate(-50%,-50%) scaleX(1.0000);transform-origin:50% 50%;">料</div>
<div id="t249" class="t " style="left:1331.6px;top:699.3px;font-size:16px;font-weight:400;color:#222;transform:translate(0,-50%) scaleX(0.8803);transform-origin:0 50%;">保険期間(以下同様) 32日〜34日まで</div>
<div id="t250" class="t " style="left:1659.5px;top:698.8px;font-size:22px;font-weight:400;color:#222;transform:translate(-100%,-50%) scaleX(0.8650);transform-origin:100% 50%;">38,690<span style="font-size:18px;position:relative;top:-1px">円</span></div>
<div id="t251" class="t " style="left:1757.3px;top:698.8px;font-size:22px;font-weight:400;color:#222;transform:translate(-100%,-50%) scaleX(0.8650);transform-origin:100% 50%;">49,390<span style="font-size:18px;position:relative;top:-1px">円</span></div>
<div id="t252" class="t " style="left:1855.0px;top:698.8px;font-size:22px;font-weight:400;color:#222;transform:translate(-100%,-50%) scaleX(0.8650);transform-origin:100% 50%;">58,480<span style="font-size:18px;position:relative;top:-1px">円</span></div>
<div id="t253" class="t " style="left:1952.7px;top:698.8px;font-size:22px;font-weight:400;color:#222;transform:translate(-100%,-50%) scaleX(0.8650);transform-origin:100% 50%;">35,830<span style="font-size:18px;position:relative;top:-1px">円</span></div>
<div id="t254" class="t " style="left:2050.5px;top:698.8px;font-size:22px;font-weight:400;color:#222;transform:translate(-100%,-50%) scaleX(0.8650);transform-origin:100% 50%;">46,530<span style="font-size:18px;position:relative;top:-1px">円</span></div>
<div id="t255" class="t " style="left:2148.2px;top:698.8px;font-size:22px;font-weight:400;color:#222;transform:translate(-100%,-50%) scaleX(0.8650);transform-origin:100% 50%;">55,620<span style="font-size:18px;position:relative;top:-1px">円</span></div>
<div id="t256" class="t " style="left:2245.9px;top:698.8px;font-size:22px;font-weight:400;color:#222;transform:translate(-100%,-50%) scaleX(0.8650);transform-origin:100% 50%;">30,270<span style="font-size:18px;position:relative;top:-1px">円</span></div>
<div id="t257" class="t " style="left:2343.6px;top:698.8px;font-size:22px;font-weight:400;color:#222;transform:translate(-100%,-50%) scaleX(0.8650);transform-origin:100% 50%;">40,970<span style="font-size:18px;position:relative;top:-1px">円</span></div>
<div id="t258" class="t " style="left:2441.4px;top:698.8px;font-size:22px;font-weight:400;color:#222;transform:translate(-100%,-50%) scaleX(0.8650);transform-origin:100% 50%;">50,060<span style="font-size:18px;position:relative;top:-1px">円</span></div>
<div id="t259" class="t " style="left:1492.5px;top:729.1px;font-size:19.5px;font-weight:400;color:#222;transform:translate(-100%,-50%) scaleX(0.9146);transform-origin:100% 50%;">39日まで</div>
<div id="t260" class="t " style="left:1659.5px;top:728.6px;font-size:22px;font-weight:400;color:#222;transform:translate(-100%,-50%) scaleX(0.8650);transform-origin:100% 50%;">40,850<span style="font-size:18px;position:relative;top:-1px">円</span></div>
<div id="t261" class="t " style="left:1757.3px;top:728.6px;font-size:22px;font-weight:400;color:#222;transform:translate(-100%,-50%) scaleX(0.8650);transform-origin:100% 50%;">51,160<span style="font-size:18px;position:relative;top:-1px">円</span></div>
<div id="t262" class="t " style="left:1855.0px;top:728.6px;font-size:22px;font-weight:400;color:#222;transform:translate(-100%,-50%) scaleX(0.8650);transform-origin:100% 50%;">60,520<span style="font-size:18px;position:relative;top:-1px">円</span></div>
<div id="t263" class="t " style="left:1952.7px;top:728.6px;font-size:22px;font-weight:400;color:#222;transform:translate(-100%,-50%) scaleX(0.8650);transform-origin:100% 50%;">37,890<span style="font-size:18px;position:relative;top:-1px">円</span></div>
<div id="t264" class="t " style="left:2050.5px;top:728.6px;font-size:22px;font-weight:400;color:#222;transform:translate(-100%,-50%) scaleX(0.8650);transform-origin:100% 50%;">48,200<span style="font-size:18px;position:relative;top:-1px">円</span></div>
<div id="t265" class="t " style="left:2148.2px;top:728.6px;font-size:22px;font-weight:400;color:#222;transform:translate(-100%,-50%) scaleX(0.8650);transform-origin:100% 50%;">57,560<span style="font-size:18px;position:relative;top:-1px">円</span></div>
<div id="t266" class="t " style="left:2245.9px;top:728.6px;font-size:22px;font-weight:400;color:#222;transform:translate(-100%,-50%) scaleX(0.8650);transform-origin:100% 50%;">32,110<span style="font-size:18px;position:relative;top:-1px">円</span></div>
<div id="t267" class="t " style="left:2343.6px;top:728.6px;font-size:22px;font-weight:400;color:#222;transform:translate(-100%,-50%) scaleX(0.8650);transform-origin:100% 50%;">42,420<span style="font-size:18px;position:relative;top:-1px">円</span></div>
<div id="t268" class="t " style="left:2441.4px;top:728.6px;font-size:22px;font-weight:400;color:#222;transform:translate(-100%,-50%) scaleX(0.8650);transform-origin:100% 50%;">51,780<span style="font-size:18px;position:relative;top:-1px">円</span></div>
<div id="t269" class="t " style="left:1492.5px;top:758.9px;font-size:19.5px;font-weight:400;color:#222;transform:translate(-100%,-50%) scaleX(0.9146);transform-origin:100% 50%;">46日まで</div>
<div id="t270" class="t " style="left:1659.5px;top:758.4px;font-size:22px;font-weight:400;color:#222;transform:translate(-100%,-50%) scaleX(0.8650);transform-origin:100% 50%;">45,670<span style="font-size:18px;position:relative;top:-1px">円</span></div>
<div id="t271" class="t " style="left:1757.3px;top:758.4px;font-size:22px;font-weight:400;color:#222;transform:translate(-100%,-50%) scaleX(0.8650);transform-origin:100% 50%;">56,600<span style="font-size:18px;position:relative;top:-1px">円</span></div>
<div id="t272" class="t " style="left:1855.0px;top:758.4px;font-size:22px;font-weight:400;color:#222;transform:translate(-100%,-50%) scaleX(0.8650);transform-origin:100% 50%;">67,670<span style="font-size:18px;position:relative;top:-1px">円</span></div>
<div id="t273" class="t " style="left:1952.7px;top:758.4px;font-size:22px;font-weight:400;color:#222;transform:translate(-100%,-50%) scaleX(0.8650);transform-origin:100% 50%;">42,690<span style="font-size:18px;position:relative;top:-1px">円</span></div>
<div id="t274" class="t " style="left:2050.5px;top:758.4px;font-size:22px;font-weight:400;color:#222;transform:translate(-100%,-50%) scaleX(0.8650);transform-origin:100% 50%;">53,620<span style="font-size:18px;position:relative;top:-1px">円</span></div>
<div id="t275" class="t " style="left:2148.2px;top:758.4px;font-size:22px;font-weight:400;color:#222;transform:translate(-100%,-50%) scaleX(0.8650);transform-origin:100% 50%;">64,690<span style="font-size:18px;position:relative;top:-1px">円</span></div>
<div id="t276" class="t " style="left:2245.9px;top:758.4px;font-size:22px;font-weight:400;color:#222;transform:translate(-100%,-50%) scaleX(0.8650);transform-origin:100% 50%;">36,770<span style="font-size:18px;position:relative;top:-1px">円</span></div>
<div id="t277" class="t " style="left:2343.6px;top:758.4px;font-size:22px;font-weight:400;color:#222;transform:translate(-100%,-50%) scaleX(0.8650);transform-origin:100% 50%;">47,700<span style="font-size:18px;position:relative;top:-1px">円</span></div>
<div id="t278" class="t " style="left:2441.4px;top:758.4px;font-size:22px;font-weight:400;color:#222;transform:translate(-100%,-50%) scaleX(0.8650);transform-origin:100% 50%;">58,770<span style="font-size:18px;position:relative;top:-1px">円</span></div>
<div id="t279" class="t " style="left:1492.5px;top:788.7px;font-size:19.5px;font-weight:400;color:#222;transform:translate(-100%,-50%) scaleX(0.9146);transform-origin:100% 50%;">53日まで</div>
<div id="t280" class="t " style="left:1659.5px;top:788.2px;font-size:22px;font-weight:400;color:#222;transform:translate(-100%,-50%) scaleX(0.8650);transform-origin:100% 50%;">52,190<span style="font-size:18px;position:relative;top:-1px">円</span></div>
<div id="t281" class="t " style="left:1757.3px;top:788.2px;font-size:22px;font-weight:400;color:#222;transform:translate(-100%,-50%) scaleX(0.8650);transform-origin:100% 50%;">60,520<span style="font-size:18px;position:relative;top:-1px">円</span></div>
<div id="t282" class="t " style="left:1855.0px;top:788.2px;font-size:22px;font-weight:400;color:#222;transform:translate(-100%,-50%) scaleX(0.8650);transform-origin:100% 50%;">72,480<span style="font-size:18px;position:relative;top:-1px">円</span></div>
<div id="t283" class="t " style="left:1952.7px;top:788.2px;font-size:22px;font-weight:400;color:#222;transform:translate(-100%,-50%) scaleX(0.8650);transform-origin:100% 50%;">49,090<span style="font-size:18px;position:relative;top:-1px">円</span></div>
<div id="t284" class="t " style="left:2050.5px;top:788.2px;font-size:22px;font-weight:400;color:#222;transform:translate(-100%,-50%) scaleX(0.8650);transform-origin:100% 50%;">57,420<span style="font-size:18px;position:relative;top:-1px">円</span></div>
<div id="t285" class="t " style="left:2148.2px;top:788.2px;font-size:22px;font-weight:400;color:#222;transform:translate(-100%,-50%) scaleX(0.8650);transform-origin:100% 50%;">69,380<span style="font-size:18px;position:relative;top:-1px">円</span></div>
<div id="t286" class="t " style="left:2245.9px;top:788.2px;font-size:22px;font-weight:400;color:#222;transform:translate(-100%,-50%) scaleX(0.8650);transform-origin:100% 50%;">42,990<span style="font-size:18px;position:relative;top:-1px">円</span></div>
<div id="t287" class="t " style="left:2343.6px;top:788.2px;font-size:22px;font-weight:400;color:#222;transform:translate(-100%,-50%) scaleX(0.8650);transform-origin:100% 50%;">51,320<span style="font-size:18px;position:relative;top:-1px">円</span></div>
<div id="t288" class="t " style="left:2441.4px;top:788.2px;font-size:22px;font-weight:400;color:#222;transform:translate(-100%,-50%) scaleX(0.8650);transform-origin:100% 50%;">63,280<span style="font-size:18px;position:relative;top:-1px">円</span></div>
<div id="t289" class="t " style="left:1492.5px;top:818.5px;font-size:19.5px;font-weight:400;color:#222;transform:translate(-100%,-50%) scaleX(0.8956);transform-origin:100% 50%;">2か月まで</div>
<div id="t290" class="t " style="left:1659.5px;top:818.0px;font-size:22px;font-weight:400;color:#222;transform:translate(-100%,-50%) scaleX(0.8650);transform-origin:100% 50%;">60,480<span style="font-size:18px;position:relative;top:-1px">円</span></div>
<div id="t291" class="t " style="left:1757.3px;top:818.0px;font-size:22px;font-weight:400;color:#222;transform:translate(-100%,-50%) scaleX(0.8650);transform-origin:100% 50%;">65,810<span style="font-size:18px;position:relative;top:-1px">円</span></div>
<div id="t292" class="t " style="left:1855.0px;top:818.0px;font-size:22px;font-weight:400;color:#222;transform:translate(-100%,-50%) scaleX(0.8650);transform-origin:100% 50%;">78,960<span style="font-size:18px;position:relative;top:-1px">円</span></div>
<div id="t293" class="t " style="left:1952.7px;top:818.0px;font-size:22px;font-weight:400;color:#222;transform:translate(-100%,-50%) scaleX(0.8650);transform-origin:100% 50%;">57,240<span style="font-size:18px;position:relative;top:-1px">円</span></div>
<div id="t294" class="t " style="left:2050.5px;top:818.0px;font-size:22px;font-weight:400;color:#222;transform:translate(-100%,-50%) scaleX(0.8650);transform-origin:100% 50%;">62,570<span style="font-size:18px;position:relative;top:-1px">円</span></div>
<div id="t295" class="t " style="left:2148.2px;top:818.0px;font-size:22px;font-weight:400;color:#222;transform:translate(-100%,-50%) scaleX(0.8650);transform-origin:100% 50%;">75,720<span style="font-size:18px;position:relative;top:-1px">円</span></div>
<div id="t296" class="t " style="left:2245.9px;top:818.0px;font-size:22px;font-weight:400;color:#222;transform:translate(-100%,-50%) scaleX(0.8650);transform-origin:100% 50%;">50,860<span style="font-size:18px;position:relative;top:-1px">円</span></div>
<div id="t297" class="t " style="left:2343.6px;top:818.0px;font-size:22px;font-weight:400;color:#222;transform:translate(-100%,-50%) scaleX(0.8650);transform-origin:100% 50%;">56,190<span style="font-size:18px;position:relative;top:-1px">円</span></div>
<div id="t298" class="t " style="left:2441.4px;top:818.0px;font-size:22px;font-weight:400;color:#222;transform:translate(-100%,-50%) scaleX(0.8650);transform-origin:100% 50%;">69,340<span style="font-size:18px;position:relative;top:-1px">円</span></div>
<div id="t299" class="t " style="left:1492.5px;top:848.3px;font-size:19.5px;font-weight:400;color:#222;transform:translate(-100%,-50%) scaleX(0.8956);transform-origin:100% 50%;">3か月まで</div>
<div id="t300" class="t " style="left:1659.5px;top:847.8px;font-size:22px;font-weight:400;color:#222;transform:translate(-100%,-50%) scaleX(0.8650);transform-origin:100% 50%;">71,430<span style="font-size:18px;position:relative;top:-1px">円</span></div>
<div id="t301" class="t " style="left:1757.3px;top:847.8px;font-size:22px;font-weight:400;color:#222;transform:translate(-100%,-50%) scaleX(0.8650);transform-origin:100% 50%;">82,040<span style="font-size:18px;position:relative;top:-1px">円</span></div>
<div id="t302" class="t " style="left:1855.0px;top:847.8px;font-size:22px;font-weight:400;color:#222;transform:translate(-100%,-50%) scaleX(0.8650);transform-origin:100% 50%;">106,970<span style="font-size:18px;position:relative;top:-1px">円</span></div>
<div id="t303" class="t " style="left:1952.7px;top:847.8px;font-size:22px;font-weight:400;color:#222;transform:translate(-100%,-50%) scaleX(0.8650);transform-origin:100% 50%;">67,850<span style="font-size:18px;position:relative;top:-1px">円</span></div>
<div id="t304" class="t " style="left:2050.5px;top:847.8px;font-size:22px;font-weight:400;color:#222;transform:translate(-100%,-50%) scaleX(0.8650);transform-origin:100% 50%;">78,460<span style="font-size:18px;position:relative;top:-1px">円</span></div>
<div id="t305" class="t " style="left:2148.2px;top:847.8px;font-size:22px;font-weight:400;color:#222;transform:translate(-100%,-50%) scaleX(0.8650);transform-origin:100% 50%;">103,390<span style="font-size:18px;position:relative;top:-1px">円</span></div>
<div id="t306" class="t " style="left:2245.9px;top:847.8px;font-size:22px;font-weight:400;color:#222;transform:translate(-100%,-50%) scaleX(0.8650);transform-origin:100% 50%;">61,030<span style="font-size:18px;position:relative;top:-1px">円</span></div>
<div id="t307" class="t " style="left:2343.6px;top:847.8px;font-size:22px;font-weight:400;color:#222;transform:translate(-100%,-50%) scaleX(0.8650);transform-origin:100% 50%;">71,640<span style="font-size:18px;position:relative;top:-1px">円</span></div>
<div id="t308" class="t " style="left:2441.4px;top:847.8px;font-size:22px;font-weight:400;color:#222;transform:translate(-100%,-50%) scaleX(0.8650);transform-origin:100% 50%;">96,570<span style="font-size:18px;position:relative;top:-1px">円</span></div>
<div id="t309" class="t " style="left:1492.5px;top:878.1px;font-size:19.5px;font-weight:400;color:#222;transform:translate(-100%,-50%) scaleX(0.8956);transform-origin:100% 50%;">4か月まで</div>
<div id="t310" class="t " style="left:1659.5px;top:877.6px;font-size:22px;font-weight:400;color:#222;transform:translate(-100%,-50%) scaleX(0.8650);transform-origin:100% 50%;">94,250<span style="font-size:18px;position:relative;top:-1px">円</span></div>
<div id="t311" class="t " style="left:1757.3px;top:877.6px;font-size:22px;font-weight:400;color:#222;transform:translate(-100%,-50%) scaleX(0.8650);transform-origin:100% 50%;">100,920<span style="font-size:18px;position:relative;top:-1px">円</span></div>
<div id="t312" class="t " style="left:1855.0px;top:877.6px;font-size:22px;font-weight:400;color:#222;transform:translate(-100%,-50%) scaleX(0.8650);transform-origin:100% 50%;">136,920<span style="font-size:18px;position:relative;top:-1px">円</span></div>
<div id="t313" class="t " style="left:1952.7px;top:877.6px;font-size:22px;font-weight:400;color:#222;transform:translate(-100%,-50%) scaleX(0.8650);transform-origin:100% 50%;">90,270<span style="font-size:18px;position:relative;top:-1px">円</span></div>
<div id="t314" class="t " style="left:2050.5px;top:877.6px;font-size:22px;font-weight:400;color:#222;transform:translate(-100%,-50%) scaleX(0.8650);transform-origin:100% 50%;">96,940<span style="font-size:18px;position:relative;top:-1px">円</span></div>
<div id="t315" class="t " style="left:2148.2px;top:877.6px;font-size:22px;font-weight:400;color:#222;transform:translate(-100%,-50%) scaleX(0.8650);transform-origin:100% 50%;">132,940<span style="font-size:18px;position:relative;top:-1px">円</span></div>
<div id="t316" class="t " style="left:2245.9px;top:877.6px;font-size:22px;font-weight:400;color:#222;transform:translate(-100%,-50%) scaleX(0.8650);transform-origin:100% 50%;">82,250<span style="font-size:18px;position:relative;top:-1px">円</span></div>
<div id="t317" class="t " style="left:2343.6px;top:877.6px;font-size:22px;font-weight:400;color:#222;transform:translate(-100%,-50%) scaleX(0.8650);transform-origin:100% 50%;">88,920<span style="font-size:18px;position:relative;top:-1px">円</span></div>
<div id="t318" class="t " style="left:2441.4px;top:877.6px;font-size:22px;font-weight:400;color:#222;transform:translate(-100%,-50%) scaleX(0.8650);transform-origin:100% 50%;">124,920<span style="font-size:18px;position:relative;top:-1px">円</span></div>
<div id="t319" class="t " style="left:1492.5px;top:907.9px;font-size:19.5px;font-weight:400;color:#222;transform:translate(-100%,-50%) scaleX(0.8956);transform-origin:100% 50%;">5か月まで</div>
<div id="t320" class="t " style="left:1659.5px;top:907.4px;font-size:22px;font-weight:400;color:#222;transform:translate(-100%,-50%) scaleX(0.8650);transform-origin:100% 50%;">121,980<span style="font-size:18px;position:relative;top:-1px">円</span></div>
<div id="t321" class="t " style="left:1757.3px;top:907.4px;font-size:22px;font-weight:400;color:#222;transform:translate(-100%,-50%) scaleX(0.8650);transform-origin:100% 50%;">129,730<span style="font-size:18px;position:relative;top:-1px">円</span></div>
<div id="t322" class="t " style="left:1855.0px;top:907.4px;font-size:22px;font-weight:400;color:#222;transform:translate(-100%,-50%) scaleX(0.8650);transform-origin:100% 50%;">179,210<span style="font-size:18px;position:relative;top:-1px">円</span></div>
<div id="t323" class="t " style="left:1952.7px;top:907.4px;font-size:22px;font-weight:400;color:#222;transform:translate(-100%,-50%) scaleX(0.8650);transform-origin:100% 50%;">117,180<span style="font-size:18px;position:relative;top:-1px">円</span></div>
<div id="t324" class="t " style="left:2050.5px;top:907.4px;font-size:22px;font-weight:400;color:#222;transform:translate(-100%,-50%) scaleX(0.8650);transform-origin:100% 50%;">124,930<span style="font-size:18px;position:relative;top:-1px">円</span></div>
<div id="t325" class="t " style="left:2148.2px;top:907.4px;font-size:22px;font-weight:400;color:#222;transform:translate(-100%,-50%) scaleX(0.8650);transform-origin:100% 50%;">174,410<span style="font-size:18px;position:relative;top:-1px">円</span></div>
<div id="t326" class="t " style="left:2245.9px;top:907.4px;font-size:22px;font-weight:400;color:#222;transform:translate(-100%,-50%) scaleX(0.8650);transform-origin:100% 50%;">107,500<span style="font-size:18px;position:relative;top:-1px">円</span></div>
<div id="t327" class="t " style="left:2343.6px;top:907.4px;font-size:22px;font-weight:400;color:#222;transform:translate(-100%,-50%) scaleX(0.8650);transform-origin:100% 50%;">115,250<span style="font-size:18px;position:relative;top:-1px">円</span></div>
<div id="t328" class="t " style="left:2441.4px;top:907.4px;font-size:22px;font-weight:400;color:#222;transform:translate(-100%,-50%) scaleX(0.8650);transform-origin:100% 50%;">164,730<span style="font-size:18px;position:relative;top:-1px">円</span></div>
<div id="t329" class="t " style="left:1492.5px;top:937.7px;font-size:19.5px;font-weight:400;color:#222;transform:translate(-100%,-50%) scaleX(0.8956);transform-origin:100% 50%;">6か月まで</div>
<div id="t330" class="t " style="left:1659.5px;top:937.2px;font-size:22px;font-weight:400;color:#222;transform:translate(-100%,-50%) scaleX(0.8650);transform-origin:100% 50%;">149,360<span style="font-size:18px;position:relative;top:-1px">円</span></div>
<div id="t331" class="t " style="left:1757.3px;top:937.2px;font-size:22px;font-weight:400;color:#222;transform:translate(-100%,-50%) scaleX(0.8650);transform-origin:100% 50%;">157,680<span style="font-size:18px;position:relative;top:-1px">円</span></div>
<div id="t332" class="t " style="left:1855.0px;top:937.2px;font-size:22px;font-weight:400;color:#222;transform:translate(-100%,-50%) scaleX(0.8650);transform-origin:100% 50%;">218,840<span style="font-size:18px;position:relative;top:-1px">円</span></div>
<div id="t333" class="t " style="left:1952.7px;top:937.2px;font-size:22px;font-weight:400;color:#222;transform:translate(-100%,-50%) scaleX(0.8650);transform-origin:100% 50%;">143,920<span style="font-size:18px;position:relative;top:-1px">円</span></div>
<div id="t334" class="t " style="left:2050.5px;top:937.2px;font-size:22px;font-weight:400;color:#222;transform:translate(-100%,-50%) scaleX(0.8650);transform-origin:100% 50%;">152,240<span style="font-size:18px;position:relative;top:-1px">円</span></div>
<div id="t335" class="t " style="left:2148.2px;top:937.2px;font-size:22px;font-weight:400;color:#222;transform:translate(-100%,-50%) scaleX(0.8650);transform-origin:100% 50%;">213,400<span style="font-size:18px;position:relative;top:-1px">円</span></div>
<div id="t336" class="t " style="left:2245.9px;top:937.2px;font-size:22px;font-weight:400;color:#222;transform:translate(-100%,-50%) scaleX(0.8650);transform-origin:100% 50%;">132,820<span style="font-size:18px;position:relative;top:-1px">円</span></div>
<div id="t337" class="t " style="left:2343.6px;top:937.2px;font-size:22px;font-weight:400;color:#222;transform:translate(-100%,-50%) scaleX(0.8650);transform-origin:100% 50%;">141,140<span style="font-size:18px;position:relative;top:-1px">円</span></div>
<div id="t338" class="t " style="left:2441.4px;top:937.2px;font-size:22px;font-weight:400;color:#222;transform:translate(-100%,-50%) scaleX(0.8650);transform-origin:100% 50%;">202,300<span style="font-size:18px;position:relative;top:-1px">円</span></div>
<div id="t339" class="t " style="left:1492.5px;top:967.5px;font-size:19.5px;font-weight:400;color:#222;transform:translate(-100%,-50%) scaleX(0.8956);transform-origin:100% 50%;">7か月まで</div>
<div id="t340" class="t " style="left:1659.5px;top:967.0px;font-size:22px;font-weight:400;color:#222;transform:translate(-100%,-50%) scaleX(0.8650);transform-origin:100% 50%;">174,900<span style="font-size:18px;position:relative;top:-1px">円</span></div>
<div id="t341" class="t " style="left:1757.3px;top:967.0px;font-size:22px;font-weight:400;color:#222;transform:translate(-100%,-50%) scaleX(0.8650);transform-origin:100% 50%;">184,780<span style="font-size:18px;position:relative;top:-1px">円</span></div>
<div id="t342" class="t " style="left:1855.0px;top:967.0px;font-size:22px;font-weight:400;color:#222;transform:translate(-100%,-50%) scaleX(0.8650);transform-origin:100% 50%;">260,490<span style="font-size:18px;position:relative;top:-1px">円</span></div>
<div id="t343" class="t " style="left:1952.7px;top:967.0px;font-size:22px;font-weight:400;color:#222;transform:translate(-100%,-50%) scaleX(0.8650);transform-origin:100% 50%;">168,960<span style="font-size:18px;position:relative;top:-1px">円</span></div>
<div id="t344" class="t " style="left:2050.5px;top:967.0px;font-size:22px;font-weight:400;color:#222;transform:translate(-100%,-50%) scaleX(0.8650);transform-origin:100% 50%;">178,840<span style="font-size:18px;position:relative;top:-1px">円</span></div>
<div id="t345" class="t " style="left:2148.2px;top:967.0px;font-size:22px;font-weight:400;color:#222;transform:translate(-100%,-50%) scaleX(0.8650);transform-origin:100% 50%;">254,550<span style="font-size:18px;position:relative;top:-1px">円</span></div>
<div id="t346" class="t " style="left:2245.9px;top:967.0px;font-size:22px;font-weight:400;color:#222;transform:translate(-100%,-50%) scaleX(0.8650);transform-origin:100% 50%;">156,540<span style="font-size:18px;position:relative;top:-1px">円</span></div>
<div id="t347" class="t " style="left:2343.6px;top:967.0px;font-size:22px;font-weight:400;color:#222;transform:translate(-100%,-50%) scaleX(0.8650);transform-origin:100% 50%;">166,420<span style="font-size:18px;position:relative;top:-1px">円</span></div>
<div id="t348" class="t " style="left:2441.4px;top:967.0px;font-size:22px;font-weight:400;color:#222;transform:translate(-100%,-50%) scaleX(0.8650);transform-origin:100% 50%;">242,130<span style="font-size:18px;position:relative;top:-1px">円</span></div>
<div id="t349" class="t " style="left:1492.5px;top:997.3px;font-size:19.5px;font-weight:400;color:#222;transform:translate(-100%,-50%) scaleX(0.8956);transform-origin:100% 50%;">8か月まで</div>
<div id="t350" class="t " style="left:1659.5px;top:996.8px;font-size:22px;font-weight:400;color:#222;transform:translate(-100%,-50%) scaleX(0.8650);transform-origin:100% 50%;">203,010<span style="font-size:18px;position:relative;top:-1px">円</span></div>
<div id="t351" class="t " style="left:1757.3px;top:996.8px;font-size:22px;font-weight:400;color:#222;transform:translate(-100%,-50%) scaleX(0.8650);transform-origin:100% 50%;">212,750<span style="font-size:18px;position:relative;top:-1px">円</span></div>
<div id="t352" class="t " style="left:1855.0px;top:996.8px;font-size:22px;font-weight:400;color:#222;transform:translate(-100%,-50%) scaleX(0.8650);transform-origin:100% 50%;">300,600<span style="font-size:18px;position:relative;top:-1px">円</span></div>
<div id="t353" class="t " style="left:1952.7px;top:996.8px;font-size:22px;font-weight:400;color:#222;transform:translate(-100%,-50%) scaleX(0.8650);transform-origin:100% 50%;">196,430<span style="font-size:18px;position:relative;top:-1px">円</span></div>
<div id="t354" class="t " style="left:2050.5px;top:996.8px;font-size:22px;font-weight:400;color:#222;transform:translate(-100%,-50%) scaleX(0.8650);transform-origin:100% 50%;">206,170<span style="font-size:18px;position:relative;top:-1px">円</span></div>
<div id="t355" class="t " style="left:2148.2px;top:996.8px;font-size:22px;font-weight:400;color:#222;transform:translate(-100%,-50%) scaleX(0.8650);transform-origin:100% 50%;">294,020<span style="font-size:18px;position:relative;top:-1px">円</span></div>
<div id="t356" class="t " style="left:2245.9px;top:996.8px;font-size:22px;font-weight:400;color:#222;transform:translate(-100%,-50%) scaleX(0.8650);transform-origin:100% 50%;">182,530<span style="font-size:18px;position:relative;top:-1px">円</span></div>
<div id="t357" class="t " style="left:2343.6px;top:996.8px;font-size:22px;font-weight:400;color:#222;transform:translate(-100%,-50%) scaleX(0.8650);transform-origin:100% 50%;">192,270<span style="font-size:18px;position:relative;top:-1px">円</span></div>
<div id="t358" class="t " style="left:2441.4px;top:996.8px;font-size:22px;font-weight:400;color:#222;transform:translate(-100%,-50%) scaleX(0.8650);transform-origin:100% 50%;">280,120<span style="font-size:18px;position:relative;top:-1px">円</span></div>
<div id="t359" class="t " style="left:1492.5px;top:1027.1px;font-size:19.5px;font-weight:400;color:#222;transform:translate(-100%,-50%) scaleX(0.8956);transform-origin:100% 50%;">9か月まで</div>
<div id="t360" class="t " style="left:1659.5px;top:1026.6px;font-size:22px;font-weight:400;color:#222;transform:translate(-100%,-50%) scaleX(0.8650);transform-origin:100% 50%;">223,480<span style="font-size:18px;position:relative;top:-1px">円</span></div>
<div id="t361" class="t " style="left:1757.3px;top:1026.6px;font-size:22px;font-weight:400;color:#222;transform:translate(-100%,-50%) scaleX(0.8650);transform-origin:100% 50%;">240,430<span style="font-size:18px;position:relative;top:-1px">円</span></div>
<div id="t362" class="t " style="left:1855.0px;top:1026.6px;font-size:22px;font-weight:400;color:#222;transform:translate(-100%,-50%) scaleX(0.8650);transform-origin:100% 50%;">340,260<span style="font-size:18px;position:relative;top:-1px">円</span></div>
<div id="t363" class="t " style="left:1952.7px;top:1026.6px;font-size:22px;font-weight:400;color:#222;transform:translate(-100%,-50%) scaleX(0.8650);transform-origin:100% 50%;">216,240<span style="font-size:18px;position:relative;top:-1px">円</span></div>
<div id="t364" class="t " style="left:2050.5px;top:1026.6px;font-size:22px;font-weight:400;color:#222;transform:translate(-100%,-50%) scaleX(0.8650);transform-origin:100% 50%;">233,190<span style="font-size:18px;position:relative;top:-1px">円</span></div>
<div id="t365" class="t " style="left:2148.2px;top:1026.6px;font-size:22px;font-weight:400;color:#222;transform:translate(-100%,-50%) scaleX(0.8650);transform-origin:100% 50%;">333,020<span style="font-size:18px;position:relative;top:-1px">円</span></div>
<div id="t366" class="t " style="left:2245.9px;top:1026.6px;font-size:22px;font-weight:400;color:#222;transform:translate(-100%,-50%) scaleX(0.8650);transform-origin:100% 50%;">200,840<span style="font-size:18px;position:relative;top:-1px">円</span></div>
<div id="t367" class="t " style="left:2343.6px;top:1026.6px;font-size:22px;font-weight:400;color:#222;transform:translate(-100%,-50%) scaleX(0.8650);transform-origin:100% 50%;">217,790<span style="font-size:18px;position:relative;top:-1px">円</span></div>
<div id="t368" class="t " style="left:2441.4px;top:1026.6px;font-size:22px;font-weight:400;color:#222;transform:translate(-100%,-50%) scaleX(0.8650);transform-origin:100% 50%;">317,620<span style="font-size:18px;position:relative;top:-1px">円</span></div>
<div id="t369" class="t " style="left:1492.5px;top:1056.9px;font-size:19.5px;font-weight:400;color:#222;transform:translate(-100%,-50%) scaleX(0.9069);transform-origin:100% 50%;">10か月まで</div>
<div id="t370" class="t " style="left:1659.5px;top:1056.4px;font-size:22px;font-weight:400;color:#222;transform:translate(-100%,-50%) scaleX(0.8650);transform-origin:100% 50%;">245,290<span style="font-size:18px;position:relative;top:-1px">円</span></div>
<div id="t371" class="t " style="left:1757.3px;top:1056.4px;font-size:22px;font-weight:400;color:#222;transform:translate(-100%,-50%) scaleX(0.8650);transform-origin:100% 50%;">268,710<span style="font-size:18px;position:relative;top:-1px">円</span></div>
<div id="t372" class="t " style="left:1855.0px;top:1056.4px;font-size:22px;font-weight:400;color:#222;transform:translate(-100%,-50%) scaleX(0.8650);transform-origin:100% 50%;">380,750<span style="font-size:18px;position:relative;top:-1px">円</span></div>
<div id="t373" class="t " style="left:1952.7px;top:1056.4px;font-size:22px;font-weight:400;color:#222;transform:translate(-100%,-50%) scaleX(0.8650);transform-origin:100% 50%;">237,370<span style="font-size:18px;position:relative;top:-1px">円</span></div>
<div id="t374" class="t " style="left:2050.5px;top:1056.4px;font-size:22px;font-weight:400;color:#222;transform:translate(-100%,-50%) scaleX(0.8650);transform-origin:100% 50%;">260,790<span style="font-size:18px;position:relative;top:-1px">円</span></div>
<div id="t375" class="t " style="left:2148.2px;top:1056.4px;font-size:22px;font-weight:400;color:#222;transform:translate(-100%,-50%) scaleX(0.8650);transform-origin:100% 50%;">372,830<span style="font-size:18px;position:relative;top:-1px">円</span></div>
<div id="t376" class="t " style="left:2245.9px;top:1056.4px;font-size:22px;font-weight:400;color:#222;transform:translate(-100%,-50%) scaleX(0.8650);transform-origin:100% 50%;">220,410<span style="font-size:18px;position:relative;top:-1px">円</span></div>
<div id="t377" class="t " style="left:2343.6px;top:1056.4px;font-size:22px;font-weight:400;color:#222;transform:translate(-100%,-50%) scaleX(0.8650);transform-origin:100% 50%;">243,830<span style="font-size:18px;position:relative;top:-1px">円</span></div>
<div id="t378" class="t " style="left:2441.4px;top:1056.4px;font-size:22px;font-weight:400;color:#222;transform:translate(-100%,-50%) scaleX(0.8650);transform-origin:100% 50%;">355,870<span style="font-size:18px;position:relative;top:-1px">円</span></div>
<div id="t379" class="t " style="left:1492.5px;top:1086.7px;font-size:19.5px;font-weight:400;color:#222;transform:translate(-100%,-50%) scaleX(0.9250);transform-origin:100% 50%;">11か月まで</div>
<div id="t380" class="t " style="left:1659.5px;top:1086.2px;font-size:22px;font-weight:400;color:#222;transform:translate(-100%,-50%) scaleX(0.8650);transform-origin:100% 50%;">263,080<span style="font-size:18px;position:relative;top:-1px">円</span></div>
<div id="t381" class="t " style="left:1757.3px;top:1086.2px;font-size:22px;font-weight:400;color:#222;transform:translate(-100%,-50%) scaleX(0.8650);transform-origin:100% 50%;">296,330<span style="font-size:18px;position:relative;top:-1px">円</span></div>
<div id="t382" class="t " style="left:1855.0px;top:1086.2px;font-size:22px;font-weight:400;color:#222;transform:translate(-100%,-50%) scaleX(0.8650);transform-origin:100% 50%;">420,420<span style="font-size:18px;position:relative;top:-1px">円</span></div>
<div id="t383" class="t " style="left:1952.7px;top:1086.2px;font-size:22px;font-weight:400;color:#222;transform:translate(-100%,-50%) scaleX(0.8650);transform-origin:100% 50%;">254,600<span style="font-size:18px;position:relative;top:-1px">円</span></div>
<div id="t384" class="t " style="left:2050.5px;top:1086.2px;font-size:22px;font-weight:400;color:#222;transform:translate(-100%,-50%) scaleX(0.8650);transform-origin:100% 50%;">287,850<span style="font-size:18px;position:relative;top:-1px">円</span></div>
<div id="t385" class="t " style="left:2148.2px;top:1086.2px;font-size:22px;font-weight:400;color:#222;transform:translate(-100%,-50%) scaleX(0.8650);transform-origin:100% 50%;">411,940<span style="font-size:18px;position:relative;top:-1px">円</span></div>
<div id="t386" class="t " style="left:2245.9px;top:1086.2px;font-size:22px;font-weight:400;color:#222;transform:translate(-100%,-50%) scaleX(0.8650);transform-origin:100% 50%;">236,220<span style="font-size:18px;position:relative;top:-1px">円</span></div>
<div id="t387" class="t " style="left:2343.6px;top:1086.2px;font-size:22px;font-weight:400;color:#222;transform:translate(-100%,-50%) scaleX(0.8650);transform-origin:100% 50%;">269,470<span style="font-size:18px;position:relative;top:-1px">円</span></div>
<div id="t388" class="t " style="left:2441.4px;top:1086.2px;font-size:22px;font-weight:400;color:#222;transform:translate(-100%,-50%) scaleX(0.8650);transform-origin:100% 50%;">393,560<span style="font-size:18px;position:relative;top:-1px">円</span></div>
<div id="t389" class="t " style="left:1492.5px;top:1116.5px;font-size:19.5px;font-weight:400;color:#222;transform:translate(-100%,-50%) scaleX(0.9069);transform-origin:100% 50%;">12か月まで</div>
<div id="t390" class="t " style="left:1659.5px;top:1116.0px;font-size:22px;font-weight:400;color:#222;transform:translate(-100%,-50%) scaleX(0.8650);transform-origin:100% 50%;">285,150<span style="font-size:18px;position:relative;top:-1px">円</span></div>
<div id="t391" class="t " style="left:1757.3px;top:1116.0px;font-size:22px;font-weight:400;color:#222;transform:translate(-100%,-50%) scaleX(0.8650);transform-origin:100% 50%;">327,480<span style="font-size:18px;position:relative;top:-1px">円</span></div>
<div id="t392" class="t " style="left:1855.0px;top:1116.0px;font-size:22px;font-weight:400;color:#222;transform:translate(-100%,-50%) scaleX(0.8650);transform-origin:100% 50%;">465,240<span style="font-size:18px;position:relative;top:-1px">円</span></div>
<div id="t393" class="t " style="left:1952.7px;top:1116.0px;font-size:22px;font-weight:400;color:#222;transform:translate(-100%,-50%) scaleX(0.8650);transform-origin:100% 50%;">275,970<span style="font-size:18px;position:relative;top:-1px">円</span></div>
<div id="t394" class="t " style="left:2050.5px;top:1116.0px;font-size:22px;font-weight:400;color:#222;transform:translate(-100%,-50%) scaleX(0.8650);transform-origin:100% 50%;">318,300<span style="font-size:18px;position:relative;top:-1px">円</span></div>
<div id="t395" class="t " style="left:2148.2px;top:1116.0px;font-size:22px;font-weight:400;color:#222;transform:translate(-100%,-50%) scaleX(0.8650);transform-origin:100% 50%;">456,060<span style="font-size:18px;position:relative;top:-1px">円</span></div>
<div id="t396" class="t " style="left:2245.9px;top:1116.0px;font-size:22px;font-weight:400;color:#222;transform:translate(-100%,-50%) scaleX(0.8650);transform-origin:100% 50%;">256,070<span style="font-size:18px;position:relative;top:-1px">円</span></div>
<div id="t397" class="t " style="left:2343.6px;top:1116.0px;font-size:22px;font-weight:400;color:#222;transform:translate(-100%,-50%) scaleX(0.8650);transform-origin:100% 50%;">298,400<span style="font-size:18px;position:relative;top:-1px">円</span></div>
<div id="t398" class="t " style="left:2441.4px;top:1116.0px;font-size:22px;font-weight:400;color:#222;transform:translate(-100%,-50%) scaleX(0.8650);transform-origin:100% 50%;">436,160<span style="font-size:18px;position:relative;top:-1px">円</span></div>
<div class="b" style="left:1291.3px;top:175.9px;width:1156.3px;height:1.4px;background:#333;"></div>
<div class="b" style="left:1291.3px;top:238.8px;width:1156.3px;height:1.4px;background:#333;"></div>
<div class="b" style="left:1327.0px;top:1128.9px;width:1120.6px;height:1.4px;background:#333;"></div>
<div class="b" style="left:1567.3px;top:89.7px;width:1.4px;height:589.3px;background:#333;"></div>
<div class="b" style="left:1566.0px;top:684.5px;width:4.0px;height:445.1px;background:#fdfdfd;"></div>
<div class="b" style="left:1567.3px;top:684.5px;width:1.4px;height:445.1px;background:#333;"></div>
<div class="b" style="left:1665.0px;top:89.7px;width:1.4px;height:86.9px;background:#333;"></div>
<div class="b" style="left:1663.7px;top:684.5px;width:4.0px;height:445.1px;background:#fdfdfd;"></div>
<div class="b" style="left:1665.0px;top:684.5px;width:1.4px;height:445.1px;background:#333;"></div>
<div class="b" style="left:1762.8px;top:89.7px;width:1.4px;height:86.9px;background:#333;"></div>
<div class="b" style="left:1761.5px;top:684.5px;width:4.0px;height:445.1px;background:#fdfdfd;"></div>
<div class="b" style="left:1762.8px;top:684.5px;width:1.4px;height:445.1px;background:#333;"></div>
<div class="b" style="left:1860.5px;top:89.7px;width:1.4px;height:257.9px;background:#333;"></div>
<div class="b" style="left:1860.5px;top:402.1px;width:1.4px;height:271.9px;background:#333;"></div>
<div class="b" style="left:1859.2px;top:684.5px;width:4.0px;height:445.1px;background:#fdfdfd;"></div>
<div class="b" style="left:1860.5px;top:684.5px;width:1.4px;height:445.1px;background:#333;"></div>
<div class="b" style="left:1958.2px;top:89.7px;width:1.4px;height:86.9px;background:#333;"></div>
<div class="b" style="left:1956.9px;top:684.5px;width:4.0px;height:445.1px;background:#fdfdfd;"></div>
<div class="b" style="left:1958.2px;top:684.5px;width:1.4px;height:445.1px;background:#333;"></div>
<div class="b" style="left:2056.0px;top:89.7px;width:1.4px;height:86.9px;background:#333;"></div>
<div class="b" style="left:2054.7px;top:684.5px;width:4.0px;height:445.1px;background:#fdfdfd;"></div>
<div class="b" style="left:2056.0px;top:684.5px;width:1.4px;height:445.1px;background:#333;"></div>
<div class="b" style="left:2153.7px;top:89.7px;width:1.4px;height:257.9px;background:#333;"></div>
<div class="b" style="left:2153.7px;top:402.1px;width:1.4px;height:271.9px;background:#333;"></div>
<div class="b" style="left:2152.4px;top:684.5px;width:4.0px;height:445.1px;background:#fdfdfd;"></div>
<div class="b" style="left:2153.7px;top:684.5px;width:1.4px;height:445.1px;background:#333;"></div>
<div class="b" style="left:2251.4px;top:89.7px;width:1.4px;height:86.9px;background:#333;"></div>
<div class="b" style="left:2250.1px;top:684.5px;width:4.0px;height:445.1px;background:#fdfdfd;"></div>
<div class="b" style="left:2251.4px;top:684.5px;width:1.4px;height:445.1px;background:#333;"></div>
<div class="b" style="left:2349.1px;top:89.7px;width:1.4px;height:86.9px;background:#333;"></div>
<div class="b" style="left:2347.8px;top:684.5px;width:4.0px;height:445.1px;background:#fdfdfd;"></div>
<div class="b" style="left:2349.1px;top:684.5px;width:1.4px;height:445.1px;background:#333;"></div>
<div class="b" style="left:2148.0px;top:1180.6px;width:36.0px;height:9.8px;background:#0b67b2;"></div>
<div class="b" style="left:2161.2px;top:1168.0px;width:9.6px;height:35.4px;background:#0b67b2;"></div>
<div class="b" style="left:1883.8px;top:1236px;width:564.4px;height:40.5px;border:2.6px solid #1c9ad6;box-sizing:border-box;background:#fff"></div>
<div id="t399" class="t " style="left:2166.0px;top:1257.0px;font-size:25px;font-weight:700;color:#1c9ad6;transform:translate(-50%,-50%) scaleX(0.9056);transform-origin:50% 50%;">オプション特約</div>
<div class="b" style="left:1883.8px;top:1285.7px;width:33.0px;height:136.8px;background:#d4d5d7;"></div>
<div class="b" style="left:1922.0px;top:1285.7px;width:526.2px;height:59.3px;background:#f9b97d;"></div>
<div class="b" style="left:1922.0px;top:1345.0px;width:202.0px;height:77.5px;background:#f9b97d;"></div>
<div class="b" style="left:2124.0px;top:1345.0px;width:324.2px;height:77.5px;background:#fdd59d;"></div>
<div id="t400" class="t " style="left:1900.4px;top:1322.0px;font-size:21px;font-weight:400;color:#333;transform:translate(-50%,-50%) scaleX(1.0000);transform-origin:50% 50%;">保</div>
<div id="t401" class="t " style="left:1900.4px;top:1344.4px;font-size:21px;font-weight:400;color:#333;transform:translate(-50%,-50%) scaleX(1.0000);transform-origin:50% 50%;">険</div>
<div id="t402" class="t " style="left:1900.4px;top:1367.0px;font-size:21px;font-weight:400;color:#333;transform:translate(-50%,-50%) scaleX(1.0000);transform-origin:50% 50%;">金</div>
<div id="t403" class="t " style="left:1900.4px;top:1388.5px;font-size:21px;font-weight:400;color:#333;transform:translate(-50%,-50%) scaleX(1.0000);transform-origin:50% 50%;">額</div>
<div id="t404" class="t " style="left:2025.0px;top:1348.0px;font-size:19px;font-weight:400;color:#333;transform:translate(-50%,-50%) scaleX(0.9342);transform-origin:50% 50%;">緊急一時帰国費用</div>
<div id="t405" class="t " style="left:2025.0px;top:1370.5px;font-size:19px;font-weight:700;color:#222;transform:translate(-50%,-50%) scaleX(0.9663);transform-origin:50% 50%;">(本人のみ)</div>
<div id="t406" class="t " style="left:2179.0px;top:1314.5px;font-size:25px;font-weight:700;color:#2b2b2b;transform:translate(-50%,-50%) scaleX(1.0000);transform-origin:50% 50%;"><span style="font-size:25px">40</span><span style="font-size:18px">万円</span></div>
<div id="t407" class="t " style="left:2287.0px;top:1314.5px;font-size:25px;font-weight:700;color:#2b2b2b;transform:translate(-50%,-50%) scaleX(1.0000);transform-origin:50% 50%;"><span style="font-size:25px">70</span><span style="font-size:18px">万円</span></div>
<div id="t408" class="t " style="left:2395.0px;top:1314.5px;font-size:25px;font-weight:700;color:#2b2b2b;transform:translate(-50%,-50%) scaleX(1.0000);transform-origin:50% 50%;"><span style="font-size:25px">100</span><span style="font-size:18px">万円</span></div>
<div id="t409" class="t " style="left:2286.0px;top:1373.5px;font-size:19px;font-weight:400;color:#333;transform:translate(-50%,-50%) scaleX(0.9312);transform-origin:50% 50%;">緊急一時帰国費用は保険期間</div>
<div id="t410" class="t " style="left:2286.0px;top:1395.5px;font-size:19px;font-weight:400;color:#333;transform:translate(-50%,-50%) scaleX(0.8450);transform-origin:50% 50%;">3か月以上にセットできます。</div>
<div class="b" style="left:1922.0px;top:1464.0px;width:526.2px;height:32.0px;background:#e9e9e9;"></div>
<div class="b" style="left:1922.0px;top:1528.0px;width:526.2px;height:32.0px;background:#e9e9e9;"></div>
<div class="b" style="left:1922.0px;top:1592.0px;width:526.2px;height:32.0px;background:#e9e9e9;"></div>
<div class="b" style="left:1922.0px;top:1656.0px;width:526.2px;height:32.0px;background:#e9e9e9;"></div>
<div class="b" style="left:1922.0px;top:1720.0px;width:526.2px;height:32.0px;background:#e9e9e9;"></div>
<div class="b" style="left:1883.8px;top:1428.8px;width:33.0px;height:322.2px;background:#d4d5d7;"></div>
<div id="t411" class="t " style="left:1900.4px;top:1520.2px;font-size:21px;font-weight:400;color:#333;transform:translate(-50%,-50%) scaleX(1.0000);transform-origin:50% 50%;">保</div>
<div id="t412" class="t " style="left:1900.4px;top:1560.4px;font-size:21px;font-weight:400;color:#333;transform:translate(-50%,-50%) scaleX(1.0000);transform-origin:50% 50%;">険</div>
<div id="t413" class="t " style="left:1900.4px;top:1600.0px;font-size:21px;font-weight:400;color:#333;transform:translate(-50%,-50%) scaleX(1.0000);transform-origin:50% 50%;">料</div>
<div id="t414" class="t " style="left:1935.0px;top:1448.0px;font-size:16.5px;font-weight:400;color:#222;transform:translate(0,-50%) scaleX(0.9474);transform-origin:0 50%;">保険期間(以下同様)3か月</div>
<div id="t415" class="t " style="left:2223.7px;top:1447.0px;font-size:22px;font-weight:400;color:#222;transform:translate(-100%,-50%) scaleX(1.0000);transform-origin:100% 50%;">4,730<span style="font-size:18px;position:relative;top:-1px">円</span></div>
<div id="t416" class="t " style="left:2331.7px;top:1447.0px;font-size:22px;font-weight:400;color:#222;transform:translate(-100%,-50%) scaleX(1.0000);transform-origin:100% 50%;">8,270<span style="font-size:18px;position:relative;top:-1px">円</span></div>
<div id="t417" class="t " style="left:2439.9px;top:1447.0px;font-size:22px;font-weight:400;color:#222;transform:translate(-100%,-50%) scaleX(1.0000);transform-origin:100% 50%;">11,820<span style="font-size:18px;position:relative;top:-1px">円</span></div>
<div id="t418" class="t " style="left:2064.6px;top:1480.0px;font-size:19.5px;font-weight:400;color:#222;transform:translate(-100%,-50%) scaleX(0.8571);transform-origin:100% 50%;">4か月まで</div>
<div id="t419" class="t " style="left:2223.7px;top:1479.0px;font-size:22px;font-weight:400;color:#222;transform:translate(-100%,-50%) scaleX(1.0000);transform-origin:100% 50%;">5,780<span style="font-size:18px;position:relative;top:-1px">円</span></div>
<div id="t420" class="t " style="left:2331.7px;top:1479.0px;font-size:22px;font-weight:400;color:#222;transform:translate(-100%,-50%) scaleX(1.0000);transform-origin:100% 50%;">10,110<span style="font-size:18px;position:relative;top:-1px">円</span></div>
<div id="t421" class="t " style="left:2439.9px;top:1479.0px;font-size:22px;font-weight:400;color:#222;transform:translate(-100%,-50%) scaleX(1.0000);transform-origin:100% 50%;">14,440<span style="font-size:18px;position:relative;top:-1px">円</span></div>
<div id="t422" class="t " style="left:2064.6px;top:1512.0px;font-size:19.5px;font-weight:400;color:#222;transform:translate(-100%,-50%) scaleX(0.8571);transform-origin:100% 50%;">5か月まで</div>
<div id="t423" class="t " style="left:2223.7px;top:1511.0px;font-size:22px;font-weight:400;color:#222;transform:translate(-100%,-50%) scaleX(1.0000);transform-origin:100% 50%;">6,700<span style="font-size:18px;position:relative;top:-1px">円</span></div>
<div id="t424" class="t " style="left:2331.7px;top:1511.0px;font-size:22px;font-weight:400;color:#222;transform:translate(-100%,-50%) scaleX(1.0000);transform-origin:100% 50%;">11,720<span style="font-size:18px;position:relative;top:-1px">円</span></div>
<div id="t425" class="t " style="left:2439.9px;top:1511.0px;font-size:22px;font-weight:400;color:#222;transform:translate(-100%,-50%) scaleX(1.0000);transform-origin:100% 50%;">16,740<span style="font-size:18px;position:relative;top:-1px">円</span></div>
<div id="t426" class="t " style="left:2064.6px;top:1544.0px;font-size:19.5px;font-weight:400;color:#222;transform:translate(-100%,-50%) scaleX(0.8571);transform-origin:100% 50%;">6か月まで</div>
<div id="t427" class="t " style="left:2223.7px;top:1543.0px;font-size:22px;font-weight:400;color:#222;transform:translate(-100%,-50%) scaleX(1.0000);transform-origin:100% 50%;">7,610<span style="font-size:18px;position:relative;top:-1px">円</span></div>
<div id="t428" class="t " style="left:2331.7px;top:1543.0px;font-size:22px;font-weight:400;color:#222;transform:translate(-100%,-50%) scaleX(1.0000);transform-origin:100% 50%;">13,330<span style="font-size:18px;position:relative;top:-1px">円</span></div>
<div id="t429" class="t " style="left:2439.9px;top:1543.0px;font-size:22px;font-weight:400;color:#222;transform:translate(-100%,-50%) scaleX(1.0000);transform-origin:100% 50%;">19,040<span style="font-size:18px;position:relative;top:-1px">円</span></div>
<div id="t430" class="t " style="left:2064.6px;top:1576.0px;font-size:19.5px;font-weight:400;color:#222;transform:translate(-100%,-50%) scaleX(0.8571);transform-origin:100% 50%;">7か月まで</div>
<div id="t431" class="t " style="left:2223.7px;top:1575.0px;font-size:22px;font-weight:400;color:#222;transform:translate(-100%,-50%) scaleX(1.0000);transform-origin:100% 50%;">8,530<span style="font-size:18px;position:relative;top:-1px">円</span></div>
<div id="t432" class="t " style="left:2331.7px;top:1575.0px;font-size:22px;font-weight:400;color:#222;transform:translate(-100%,-50%) scaleX(1.0000);transform-origin:100% 50%;">14,930<span style="font-size:18px;position:relative;top:-1px">円</span></div>
<div id="t433" class="t " style="left:2439.9px;top:1575.0px;font-size:22px;font-weight:400;color:#222;transform:translate(-100%,-50%) scaleX(1.0000);transform-origin:100% 50%;">21,330<span style="font-size:18px;position:relative;top:-1px">円</span></div>
<div id="t434" class="t " style="left:2064.6px;top:1608.0px;font-size:19.5px;font-weight:400;color:#222;transform:translate(-100%,-50%) scaleX(0.8571);transform-origin:100% 50%;">8か月まで</div>
<div id="t435" class="t " style="left:2223.7px;top:1607.0px;font-size:22px;font-weight:400;color:#222;transform:translate(-100%,-50%) scaleX(1.0000);transform-origin:100% 50%;">9,450<span style="font-size:18px;position:relative;top:-1px">円</span></div>
<div id="t436" class="t " style="left:2331.7px;top:1607.0px;font-size:22px;font-weight:400;color:#222;transform:translate(-100%,-50%) scaleX(1.0000);transform-origin:100% 50%;">16,540<span style="font-size:18px;position:relative;top:-1px">円</span></div>
<div id="t437" class="t " style="left:2439.9px;top:1607.0px;font-size:22px;font-weight:400;color:#222;transform:translate(-100%,-50%) scaleX(1.0000);transform-origin:100% 50%;">23,630<span style="font-size:18px;position:relative;top:-1px">円</span></div>
<div id="t438" class="t " style="left:2064.6px;top:1640.0px;font-size:19.5px;font-weight:400;color:#222;transform:translate(-100%,-50%) scaleX(0.8571);transform-origin:100% 50%;">9か月まで</div>
<div id="t439" class="t " style="left:2223.7px;top:1639.0px;font-size:22px;font-weight:400;color:#222;transform:translate(-100%,-50%) scaleX(1.0000);transform-origin:100% 50%;">10,370<span style="font-size:18px;position:relative;top:-1px">円</span></div>
<div id="t440" class="t " style="left:2331.7px;top:1639.0px;font-size:22px;font-weight:400;color:#222;transform:translate(-100%,-50%) scaleX(1.0000);transform-origin:100% 50%;">18,150<span style="font-size:18px;position:relative;top:-1px">円</span></div>
<div id="t441" class="t " style="left:2439.9px;top:1639.0px;font-size:22px;font-weight:400;color:#222;transform:translate(-100%,-50%) scaleX(1.0000);transform-origin:100% 50%;">25,930<span style="font-size:18px;position:relative;top:-1px">円</span></div>
<div id="t442" class="t " style="left:2064.6px;top:1672.0px;font-size:19.5px;font-weight:400;color:#222;transform:translate(-100%,-50%) scaleX(0.8824);transform-origin:100% 50%;">10か月まで</div>
<div id="t443" class="t " style="left:2223.7px;top:1671.0px;font-size:22px;font-weight:400;color:#222;transform:translate(-100%,-50%) scaleX(1.0000);transform-origin:100% 50%;">11,290<span style="font-size:18px;position:relative;top:-1px">円</span></div>
<div id="t444" class="t " style="left:2331.7px;top:1671.0px;font-size:22px;font-weight:400;color:#222;transform:translate(-100%,-50%) scaleX(1.0000);transform-origin:100% 50%;">19,760<span style="font-size:18px;position:relative;top:-1px">円</span></div>
<div id="t445" class="t " style="left:2439.9px;top:1671.0px;font-size:22px;font-weight:400;color:#222;transform:translate(-100%,-50%) scaleX(1.0000);transform-origin:100% 50%;">28,230<span style="font-size:18px;position:relative;top:-1px">円</span></div>
<div id="t446" class="t " style="left:2064.6px;top:1704.0px;font-size:19.5px;font-weight:400;color:#222;transform:translate(-100%,-50%) scaleX(0.9000);transform-origin:100% 50%;">11か月まで</div>
<div id="t447" class="t " style="left:2223.7px;top:1703.0px;font-size:22px;font-weight:400;color:#222;transform:translate(-100%,-50%) scaleX(1.0000);transform-origin:100% 50%;">12,210<span style="font-size:18px;position:relative;top:-1px">円</span></div>
<div id="t448" class="t " style="left:2331.7px;top:1703.0px;font-size:22px;font-weight:400;color:#222;transform:translate(-100%,-50%) scaleX(1.0000);transform-origin:100% 50%;">21,370<span style="font-size:18px;position:relative;top:-1px">円</span></div>
<div id="t449" class="t " style="left:2439.9px;top:1703.0px;font-size:22px;font-weight:400;color:#222;transform:translate(-100%,-50%) scaleX(1.0000);transform-origin:100% 50%;">30,520<span style="font-size:18px;position:relative;top:-1px">円</span></div>
<div id="t450" class="t " style="left:2064.6px;top:1736.0px;font-size:19.5px;font-weight:400;color:#222;transform:translate(-100%,-50%) scaleX(0.8824);transform-origin:100% 50%;">12か月まで</div>
<div id="t451" class="t " style="left:2223.7px;top:1735.0px;font-size:22px;font-weight:400;color:#222;transform:translate(-100%,-50%) scaleX(1.0000);transform-origin:100% 50%;">13,130<span style="font-size:18px;position:relative;top:-1px">円</span></div>
<div id="t452" class="t " style="left:2331.7px;top:1735.0px;font-size:22px;font-weight:400;color:#222;transform:translate(-100%,-50%) scaleX(1.0000);transform-origin:100% 50%;">22,970<span style="font-size:18px;position:relative;top:-1px">円</span></div>
<div id="t453" class="t " style="left:2439.9px;top:1735.0px;font-size:22px;font-weight:400;color:#222;transform:translate(-100%,-50%) scaleX(1.0000);transform-origin:100% 50%;">32,820<span style="font-size:18px;position:relative;top:-1px">円</span></div>
<div class="b" style="left:1922.0px;top:1285.0px;width:526.2px;height:1.4px;background:#4a3a2a;"></div>
<div class="b" style="left:2124.0px;top:1344.3px;width:324.2px;height:1.4px;background:#4a3a2a;"></div>
<div class="b" style="left:1922.0px;top:1750.3px;width:526.2px;height:1.4px;background:#333;"></div>
<div class="b" style="left:2123.3px;top:1285.7px;width:1.4px;height:465.3px;background:#333;"></div>
<div class="b" style="left:2231.3px;top:1285.7px;width:1.4px;height:59.3px;background:#4a3a2a;"></div>
<div class="b" style="left:2230.0px;top:1428.8px;width:4.0px;height:322.2px;background:#fdfdfd;"></div>
<div class="b" style="left:2231.3px;top:1428.8px;width:1.4px;height:322.2px;background:#333;"></div>
<div class="b" style="left:2339.3px;top:1285.7px;width:1.4px;height:59.3px;background:#4a3a2a;"></div>
<div class="b" style="left:2338.0px;top:1428.8px;width:4.0px;height:322.2px;background:#fdfdfd;"></div>
<div class="b" style="left:2339.3px;top:1428.8px;width:1.4px;height:322.2px;background:#333;"></div>
<div class="b" style="left:2122.0px;top:1428.8px;width:1.3px;height:322.2px;background:#fdfdfd;"></div>
<div class="b" style="left:2124.7px;top:1428.8px;width:1.3px;height:322.2px;background:#fdfdfd;"></div>
<div id="t454" class="t " style="left:1291.3px;top:1573.4px;font-size:19px;font-weight:300;color:#484848;transform:translate(0,-50%) scaleX(0.8780);transform-origin:0 50%;">※6 1回の出発遅延など、または乗継遅延につき、2 万円をお支払いの限度</div>
<div id="t455" class="t " style="left:1327.2px;top:1593.7px;font-size:19px;font-weight:300;color:#484848;transform:translate(0,-50%) scaleX(0.7895);transform-origin:0 50%;">とします。</div>
<div id="t456" class="t " style="left:1291.3px;top:1613.7px;font-size:19px;font-weight:300;color:#484848;transform:translate(0,-50%) scaleX(0.8878);transform-origin:0 50%;">※7 帯同家族用単体ではご加入いただけません。駐在者用とあわせてご加</div>
<div id="t457" class="t " style="left:1327.2px;top:1634.0px;font-size:19px;font-weight:300;color:#484848;transform:translate(0,-50%) scaleX(0.8246);transform-origin:0 50%;">入ください。</div>
<div id="t458" class="t " style="left:1291.3px;top:1656.1px;font-size:19px;font-weight:300;color:#484848;transform:translate(0,-50%) scaleX(0.8990);transform-origin:0 50%;">※8 現症・既往症とは、次の場合をいいます。</div>
<div id="t459" class="t " style="left:1325.0px;top:1678.1px;font-size:19px;font-weight:300;color:#484848;transform:translate(0,-50%) scaleX(0.8293);transform-origin:0 50%;">・現在、ケガや病気で医師の治療、投薬を受けているか、または医師から</div>
<div id="t460" class="t " style="left:1344.8px;top:1700.1px;font-size:19px;font-weight:300;color:#484848;transform:translate(0,-50%) scaleX(0.8285);transform-origin:0 50%;">精密検査、定期的な診療、治療、投薬のいずれかをすすめられている。</div>
<div id="t461" class="t " style="left:1325.0px;top:1723.3px;font-size:19px;font-weight:300;color:#484848;transform:translate(0,-50%) scaleX(0.8767);transform-origin:0 50%;">・これまで継続して1か月以上入院したこと、または脳疾患、心疾患、</div>
<div id="t462" class="t " style="left:1344.8px;top:1743.7px;font-size:19px;font-weight:300;color:#484848;transform:translate(0,-50%) scaleX(0.8553);transform-origin:0 50%;">ガンを患ったことがある。</div>
<div id="t463" class="t " style="left:1291.3px;top:1767.4px;font-size:19px;font-weight:300;color:#484848;transform:translate(0,-50%) scaleX(0.9200);transform-origin:0 50%;">※9 生後 6 か月からご加入いただけます。</div>
</div></body></html>
